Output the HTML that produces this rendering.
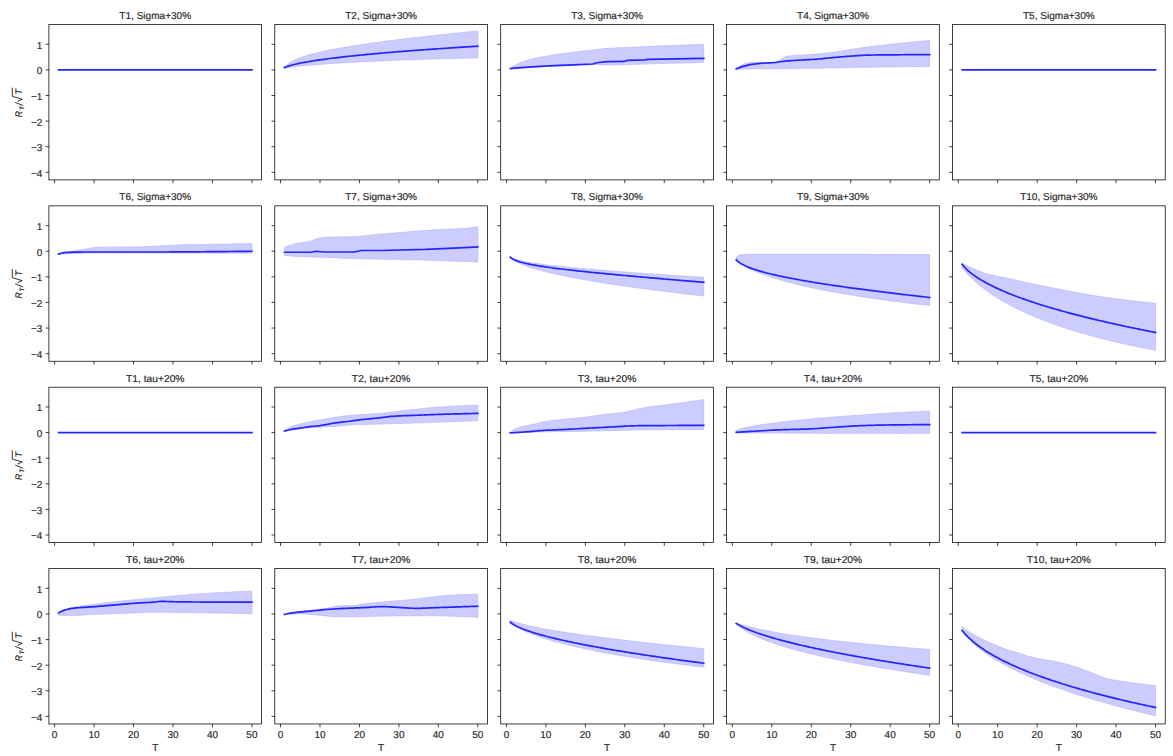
<!DOCTYPE html><html><head><meta charset="utf-8"><style>html,body{margin:0;padding:0;background:#fff;}svg{display:block;}text{font-family:"Liberation Sans",sans-serif;fill:#2a2a2a;text-rendering:geometricPrecision;stroke:#2a2a2a;stroke-width:0.18px;}</style></head><body>
<svg width="1173" height="756" viewBox="0 0 1173 756">
<rect x="0" y="0" width="1173" height="756" fill="#fff"/>
<polyline fill="none" stroke="#2525ff" stroke-width="1.7" stroke-linecap="square" points="58.57,69.9 251.93,69.9"/>
<rect x="48.9" y="24.5" width="212.7" height="155.4" fill="none" stroke="#000" stroke-width="0.75"/>
<path d="M54.62 179.9v3.3M94.08 179.9v3.3M133.55 179.9v3.3M173.01 179.9v3.3M212.47 179.9v3.3M251.93 179.9v3.3M48.9 172.3h-3.3M48.9 146.7h-3.3M48.9 121.1h-3.3M48.9 95.5h-3.3M48.9 69.9h-3.3M48.9 44.3h-3.3" stroke="#000" stroke-width="0.75" fill="none"/>
<text x="155.25" y="19.1" font-size="10.0" text-anchor="middle" textLength="71.84" lengthAdjust="spacingAndGlyphs">T1, Sigma+30%</text>
<text x="42.4" y="176.7" font-size="10" text-anchor="end">−4</text>
<text x="42.4" y="151.1" font-size="10" text-anchor="end">−3</text>
<text x="42.4" y="125.5" font-size="10" text-anchor="end">−2</text>
<text x="42.4" y="99.9" font-size="10" text-anchor="end">−1</text>
<text x="42.4" y="74.3" font-size="10" text-anchor="end">0</text>
<text x="42.4" y="48.7" font-size="10" text-anchor="end">1</text>
<g transform="translate(22.3 116.9) rotate(-90)"><text x="-0.3" y="0" font-size="9.6" font-style="italic" textLength="6.2" lengthAdjust="spacingAndGlyphs">R</text><text x="6.8" y="1.4" font-size="6.3" font-style="italic">T</text><path d="M11.3 0.8L14.5 -7.1M15.1 -3.9L15.9 -4.3L17.6 -0.1L20.6 -10H29.2" fill="none" stroke="#000" stroke-width="0.8"/><text x="22.1" y="0" font-size="9.6" font-style="italic">T</text></g>
<polygon fill="#ccccff" stroke="#b0b0ff" stroke-width="0.6" points="284.47,67.27 286.44,65.16 288.41,63.57 290.39,62.27 292.36,61.15 294.33,60.17 296.31,59.28 298.28,58.47 300.25,57.73 302.23,57.03 304.2,56.38 306.17,55.77 308.15,55.18 310.12,54.62 312.09,54.09 314.06,53.58 316.04,53.08 318.01,52.61 319.98,52.15 321.96,51.7 323.93,51.27 325.9,50.85 327.88,50.44 329.85,50.04 331.82,49.65 333.8,49.27 335.77,48.89 337.74,48.53 339.71,48.17 341.69,47.82 343.66,47.48 345.63,47.14 347.61,46.8 349.58,46.48 351.55,46.16 353.53,45.84 355.5,45.53 357.47,45.22 359.45,44.91 361.42,44.62 363.39,44.32 365.37,44.03 367.34,43.74 369.31,43.46 371.28,43.17 373.26,42.9 375.23,42.62 377.2,42.35 379.18,42.08 381.15,41.81 383.12,41.55 385.1,41.29 387.07,41.03 389.04,40.77 391.02,40.52 392.99,40.27 394.96,40.02 396.93,39.77 398.91,39.53 400.88,39.29 402.85,39.04 404.83,38.81 406.8,38.57 408.77,38.33 410.75,38.1 412.72,37.87 414.69,37.64 416.67,37.41 418.64,37.18 420.61,36.95 422.59,36.73 424.56,36.51 426.53,36.29 428.5,36.07 430.48,35.85 432.45,35.63 434.42,35.42 436.4,35.2 438.37,34.99 440.34,34.78 442.32,34.57 444.29,34.36 446.26,34.15 448.24,33.94 450.21,33.73 452.18,33.53 454.15,33.32 456.13,33.12 458.1,32.92 460.07,32.72 462.05,32.52 464.02,32.32 465.99,32.12 467.97,31.92 469.94,31.73 471.91,31.53 473.89,31.34 475.86,31.14 477.83,30.95 477.83,57.8 475.86,57.85 473.89,57.9 471.91,57.95 469.94,58 467.97,58.05 465.99,58.1 464.02,58.15 462.05,58.2 460.07,58.25 458.1,58.31 456.13,58.36 454.15,58.42 452.18,58.47 450.21,58.53 448.24,58.58 446.26,58.64 444.29,58.7 442.32,58.75 440.34,58.81 438.37,58.87 436.4,58.93 434.42,58.99 432.45,59.05 430.48,59.11 428.5,59.18 426.53,59.24 424.56,59.3 422.59,59.37 420.61,59.43 418.64,59.5 416.67,59.57 414.69,59.63 412.72,59.7 410.75,59.77 408.77,59.84 406.8,59.91 404.83,59.99 402.85,60.06 400.88,60.13 398.91,60.21 396.93,60.28 394.96,60.36 392.99,60.44 391.02,60.52 389.04,60.6 387.07,60.68 385.1,60.76 383.12,60.84 381.15,60.93 379.18,61.01 377.2,61.1 375.23,61.19 373.26,61.28 371.28,61.37 369.31,61.46 367.34,61.55 365.37,61.65 363.39,61.74 361.42,61.84 359.45,61.94 357.47,62.04 355.5,62.15 353.53,62.25 351.55,62.36 349.58,62.47 347.61,62.58 345.63,62.69 343.66,62.8 341.69,62.92 339.71,63.04 337.74,63.16 335.77,63.28 333.8,63.41 331.82,63.54 329.85,63.67 327.88,63.81 325.9,63.94 323.93,64.09 321.96,64.23 319.98,64.38 318.01,64.53 316.04,64.69 314.06,64.85 312.09,65.01 310.12,65.18 308.15,65.36 306.17,65.54 304.2,65.72 302.23,65.91 300.25,66.11 298.28,66.32 296.31,66.54 294.33,66.76 292.36,66.99 290.39,67.23 288.41,67.48 286.44,67.73 284.47,67.96"/>
<polyline fill="none" stroke="#2525ff" stroke-width="1.7" stroke-linecap="square" stroke-linejoin="round" points="284.47,67.59 286.44,66.8 288.41,66.13 290.39,65.53 292.36,64.99 294.33,64.5 296.31,64.03 298.28,63.6 300.25,63.19 302.23,62.79 304.2,62.42 306.17,62.06 308.15,61.72 310.12,61.38 312.09,61.06 314.06,60.75 316.04,60.44 318.01,60.15 319.98,59.86 321.96,59.58 323.93,59.31 325.9,59.05 327.88,58.78 329.85,58.53 331.82,58.28 333.8,58.04 335.77,57.8 337.74,57.56 339.71,57.33 341.69,57.1 343.66,56.88 345.63,56.66 347.61,56.44 349.58,56.23 351.55,56.02 353.53,55.81 355.5,55.61 357.47,55.41 359.45,55.21 361.42,55.01 363.39,54.82 365.37,54.63 367.34,54.44 369.31,54.25 371.28,54.07 373.26,53.89 375.23,53.71 377.2,53.53 379.18,53.35 381.15,53.18 383.12,53.01 385.1,52.84 387.07,52.67 389.04,52.5 391.02,52.34 392.99,52.17 394.96,52.01 396.93,51.85 398.91,51.69 400.88,51.53 402.85,51.38 404.83,51.22 406.8,51.07 408.77,50.91 410.75,50.76 412.72,50.61 414.69,50.47 416.67,50.32 418.64,50.17 420.61,50.03 422.59,49.88 424.56,49.74 426.53,49.6 428.5,49.46 430.48,49.32 432.45,49.18 434.42,49.04 436.4,48.9 438.37,48.77 440.34,48.63 442.32,48.5 444.29,48.36 446.26,48.23 448.24,48.1 450.21,47.97 452.18,47.84 454.15,47.71 456.13,47.58 458.1,47.46 460.07,47.33 462.05,47.2 464.02,47.08 465.99,46.96 467.97,46.83 469.94,46.71 471.91,46.59 473.89,46.47 475.86,46.35 477.83,46.23"/>
<rect x="274.8" y="24.5" width="212.7" height="155.4" fill="none" stroke="#000" stroke-width="0.75"/>
<path d="M280.52 179.9v3.3M319.98 179.9v3.3M359.45 179.9v3.3M398.91 179.9v3.3M438.37 179.9v3.3M477.83 179.9v3.3M274.8 172.3h-3.3M274.8 146.7h-3.3M274.8 121.1h-3.3M274.8 95.5h-3.3M274.8 69.9h-3.3M274.8 44.3h-3.3" stroke="#000" stroke-width="0.75" fill="none"/>
<text x="381.15" y="19.1" font-size="10.0" text-anchor="middle" textLength="71.84" lengthAdjust="spacingAndGlyphs">T2, Sigma+30%</text>
<polygon fill="#ccccff" stroke="#b0b0ff" stroke-width="0.6" points="510.37,68.11 512.34,66.85 514.31,65.67 516.29,64.6 518.26,63.64 520.23,62.76 522.21,61.95 524.18,61.21 526.15,60.55 528.13,59.97 530.1,59.46 532.07,58.99 534.05,58.55 536.02,58.12 537.99,57.71 539.96,57.31 541.94,56.93 543.91,56.55 545.88,56.19 547.86,55.84 549.83,55.5 551.8,55.18 553.78,54.86 555.75,54.55 557.72,54.25 559.7,53.96 561.67,53.68 563.64,53.41 565.61,53.14 567.59,52.88 569.56,52.63 571.53,52.38 573.51,52.14 575.48,51.91 577.45,51.68 579.43,51.46 581.4,51.25 583.37,51.04 585.35,50.83 587.32,50.62 589.29,50.41 591.27,50.19 593.24,49.96 595.21,49.71 597.18,49.46 599.16,49.21 601.13,48.97 603.1,48.75 605.08,48.55 607.05,48.4 609.02,48.27 611,48.15 612.97,48.04 614.94,47.94 616.92,47.85 618.89,47.76 620.86,47.68 622.83,47.6 624.81,47.52 626.78,47.45 628.75,47.37 630.73,47.29 632.7,47.2 634.67,47.12 636.65,47.02 638.62,46.93 640.59,46.84 642.57,46.74 644.54,46.65 646.51,46.55 648.49,46.46 650.46,46.36 652.43,46.27 654.4,46.18 656.38,46.09 658.35,46 660.32,45.92 662.3,45.84 664.27,45.76 666.24,45.68 668.22,45.6 670.19,45.53 672.16,45.45 674.14,45.38 676.11,45.31 678.08,45.24 680.05,45.17 682.03,45.1 684,45.03 685.97,44.96 687.95,44.88 689.92,44.81 691.89,44.74 693.87,44.67 695.84,44.59 697.81,44.52 699.79,44.45 701.76,44.37 703.73,44.3 703.73,62.48 701.76,62.52 699.79,62.57 697.81,62.61 695.84,62.66 693.87,62.71 691.89,62.76 689.92,62.8 687.95,62.85 685.97,62.9 684,62.95 682.03,63 680.05,63.05 678.08,63.09 676.11,63.14 674.14,63.19 672.16,63.24 670.19,63.29 668.22,63.34 666.24,63.4 664.27,63.45 662.3,63.5 660.32,63.55 658.35,63.6 656.38,63.65 654.4,63.7 652.43,63.76 650.46,63.81 648.49,63.87 646.51,63.93 644.54,64 642.57,64.07 640.59,64.14 638.62,64.22 636.65,64.29 634.67,64.37 632.7,64.44 630.73,64.51 628.75,64.58 626.78,64.65 624.81,64.71 622.83,64.77 620.86,64.83 618.89,64.88 616.92,64.93 614.94,64.96 612.97,64.99 611,65.02 609.02,65.03 607.05,65.04 605.08,65.01 603.1,64.93 601.13,64.83 599.16,64.73 597.18,64.63 595.21,64.55 593.24,64.52 591.27,64.54 589.29,64.57 587.32,64.63 585.35,64.7 583.37,64.78 581.4,64.87 579.43,64.97 577.45,65.07 575.48,65.17 573.51,65.26 571.53,65.34 569.56,65.43 567.59,65.51 565.61,65.6 563.64,65.68 561.67,65.77 559.7,65.86 557.72,65.95 555.75,66.05 553.78,66.14 551.8,66.24 549.83,66.34 547.86,66.44 545.88,66.54 543.91,66.64 541.94,66.75 539.96,66.86 537.99,66.97 536.02,67.08 534.05,67.2 532.07,67.32 530.1,67.45 528.13,67.58 526.15,67.71 524.18,67.85 522.21,67.98 520.23,68.13 518.26,68.27 516.29,68.42 514.31,68.57 512.34,68.72 510.37,68.88"/>
<polyline fill="none" stroke="#2525ff" stroke-width="1.7" stroke-linecap="square" stroke-linejoin="round" points="510.37,68.62 517.47,67.85 536.02,66.57 554.17,65.55 572.72,64.78 592.84,64.01 596.79,62.73 607.05,61.71 624.41,61.45 626.78,60.43 644.93,59.92 647.7,59.4 703.73,58.38"/>
<rect x="500.7" y="24.5" width="212.7" height="155.4" fill="none" stroke="#000" stroke-width="0.75"/>
<path d="M506.42 179.9v3.3M545.88 179.9v3.3M585.35 179.9v3.3M624.81 179.9v3.3M664.27 179.9v3.3M703.73 179.9v3.3M500.7 172.3h-3.3M500.7 146.7h-3.3M500.7 121.1h-3.3M500.7 95.5h-3.3M500.7 69.9h-3.3M500.7 44.3h-3.3" stroke="#000" stroke-width="0.75" fill="none"/>
<text x="607.05" y="19.1" font-size="10.0" text-anchor="middle" textLength="71.84" lengthAdjust="spacingAndGlyphs">T3, Sigma+30%</text>
<polygon fill="#ccccff" stroke="#b0b0ff" stroke-width="0.6" points="736.27,68.62 738.24,67.13 740.21,65.8 742.19,64.74 744.16,64 746.13,63.37 748.11,62.81 750.08,62.41 752.05,62.23 754.03,62.22 756,62.22 757.97,62.23 759.95,62.33 761.92,62.49 763.89,62.65 765.86,62.73 767.84,62.7 769.81,62.6 771.78,62.44 773.76,62.22 775.73,61.96 777.7,61.37 779.68,60.31 781.65,59 783.62,57.7 785.6,56.64 787.57,56.08 789.54,55.86 791.51,55.69 793.49,55.55 795.46,55.43 797.43,55.33 799.41,55.24 801.38,55.16 803.35,55.06 805.33,54.96 807.3,54.83 809.27,54.67 811.25,54.52 813.22,54.36 815.19,54.19 817.17,54.01 819.14,53.83 821.11,53.64 823.08,53.45 825.06,53.25 827.03,53.04 829,52.82 830.98,52.6 832.95,52.36 834.92,52.11 836.9,51.83 838.87,51.53 840.84,51.21 842.82,50.88 844.79,50.54 846.76,50.19 848.73,49.83 850.71,49.48 852.68,49.13 854.65,48.8 856.63,48.47 858.6,48.17 860.57,47.88 862.55,47.61 864.52,47.35 866.49,47.09 868.47,46.84 870.44,46.6 872.41,46.36 874.39,46.12 876.36,45.89 878.33,45.66 880.3,45.43 882.28,45.21 884.25,44.99 886.22,44.77 888.2,44.56 890.17,44.34 892.14,44.13 894.12,43.92 896.09,43.71 898.06,43.5 900.04,43.29 902.01,43.09 903.98,42.88 905.95,42.68 907.93,42.49 909.9,42.29 911.87,42.09 913.85,41.9 915.82,41.71 917.79,41.53 919.77,41.34 921.74,41.16 923.71,40.98 925.69,40.8 927.66,40.63 929.63,40.46 929.63,66.57 927.66,66.58 925.69,66.59 923.71,66.61 921.74,66.62 919.77,66.64 917.79,66.65 915.82,66.67 913.85,66.68 911.87,66.7 909.9,66.72 907.93,66.74 905.95,66.76 903.98,66.78 902.01,66.8 900.04,66.82 898.06,66.85 896.09,66.87 894.12,66.89 892.14,66.92 890.17,66.94 888.2,66.97 886.22,66.99 884.25,67.02 882.28,67.04 880.3,67.07 878.33,67.09 876.36,67.12 874.39,67.15 872.41,67.19 870.44,67.22 868.47,67.26 866.49,67.3 864.52,67.34 862.55,67.38 860.57,67.42 858.6,67.47 856.63,67.51 854.65,67.55 852.68,67.6 850.71,67.64 848.73,67.68 846.76,67.72 844.79,67.77 842.82,67.81 840.84,67.84 838.87,67.88 836.9,67.92 834.92,67.95 832.95,67.98 830.98,68.01 829,68.04 827.03,68.07 825.06,68.09 823.08,68.12 821.11,68.15 819.14,68.17 817.17,68.2 815.19,68.22 813.22,68.25 811.25,68.27 809.27,68.3 807.3,68.32 805.33,68.34 803.35,68.37 801.38,68.39 799.41,68.41 797.43,68.43 795.46,68.46 793.49,68.48 791.51,68.5 789.54,68.52 787.57,68.54 785.6,68.56 783.62,68.58 781.65,68.6 779.68,68.62 777.7,68.64 775.73,68.66 773.76,68.68 771.78,68.69 769.81,68.71 767.84,68.72 765.86,68.73 763.89,68.75 761.92,68.77 759.95,68.79 757.97,68.81 756,68.83 754.03,68.85 752.05,68.88 750.08,68.92 748.11,68.97 746.13,69.02 744.16,69.09 742.19,69.16 740.21,69.23 738.24,69.31 736.27,69.39"/>
<polyline fill="none" stroke="#2525ff" stroke-width="1.7" stroke-linecap="square" stroke-linejoin="round" points="736.27,68.88 738.24,68.07 740.21,67.33 742.19,66.67 744.16,66.1 746.13,65.57 748.11,65.09 750.08,64.68 752.05,64.33 754.03,64.05 756,63.8 757.97,63.59 759.95,63.4 761.92,63.24 763.89,63.12 765.86,63.02 767.84,62.93 769.81,62.85 771.78,62.76 773.76,62.64 775.73,62.48 777.7,62.15 779.68,61.76 781.65,61.52 783.62,61.31 785.6,61.12 787.57,60.95 789.54,60.8 791.51,60.65 793.49,60.51 795.46,60.38 797.43,60.25 799.41,60.12 801.38,60 803.35,59.9 805.33,59.8 807.3,59.7 809.27,59.6 811.25,59.5 813.22,59.4 815.19,59.28 817.17,59.15 819.14,58.99 821.11,58.82 823.08,58.62 825.06,58.42 827.03,58.21 829,58 830.98,57.8 832.95,57.61 834.92,57.43 836.9,57.26 838.87,57.08 840.84,56.91 842.82,56.74 844.79,56.58 846.76,56.42 848.73,56.27 850.71,56.13 852.68,56 854.65,55.86 856.63,55.72 858.6,55.58 860.57,55.45 862.55,55.33 864.52,55.23 866.49,55.14 868.47,55.08 870.44,55.04 872.41,55.01 874.39,54.98 876.36,54.96 878.33,54.94 880.3,54.92 882.28,54.9 884.25,54.89 886.22,54.88 888.2,54.86 890.17,54.85 892.14,54.84 894.12,54.82 896.09,54.81 898.06,54.79 900.04,54.77 902.01,54.76 903.98,54.74 905.95,54.72 907.93,54.71 909.9,54.69 911.87,54.68 913.85,54.66 915.82,54.64 917.79,54.63 919.77,54.61 921.74,54.6 923.71,54.58 925.69,54.57 927.66,54.55 929.63,54.54"/>
<rect x="726.6" y="24.5" width="212.7" height="155.4" fill="none" stroke="#000" stroke-width="0.75"/>
<path d="M732.32 179.9v3.3M771.78 179.9v3.3M811.25 179.9v3.3M850.71 179.9v3.3M890.17 179.9v3.3M929.63 179.9v3.3M726.6 172.3h-3.3M726.6 146.7h-3.3M726.6 121.1h-3.3M726.6 95.5h-3.3M726.6 69.9h-3.3M726.6 44.3h-3.3" stroke="#000" stroke-width="0.75" fill="none"/>
<text x="832.95" y="19.1" font-size="10.0" text-anchor="middle" textLength="71.84" lengthAdjust="spacingAndGlyphs">T4, Sigma+30%</text>
<polyline fill="none" stroke="#2525ff" stroke-width="1.7" stroke-linecap="square" points="962.17,69.9 1155.53,69.9"/>
<rect x="952.5" y="24.5" width="212.7" height="155.4" fill="none" stroke="#000" stroke-width="0.75"/>
<path d="M958.22 179.9v3.3M997.68 179.9v3.3M1037.15 179.9v3.3M1076.61 179.9v3.3M1116.07 179.9v3.3M1155.53 179.9v3.3M952.5 172.3h-3.3M952.5 146.7h-3.3M952.5 121.1h-3.3M952.5 95.5h-3.3M952.5 69.9h-3.3M952.5 44.3h-3.3" stroke="#000" stroke-width="0.75" fill="none"/>
<text x="1058.85" y="19.1" font-size="10.0" text-anchor="middle" textLength="71.84" lengthAdjust="spacingAndGlyphs">T5, Sigma+30%</text>
<polygon fill="#ccccff" stroke="#b0b0ff" stroke-width="0.6" points="58.57,253.81 95.66,247.15 139.07,246.9 154.86,246.13 182.48,244.85 228.25,244.08 251.93,243.57 251.93,253.3 249.96,253.29 247.99,253.28 246.01,253.27 244.04,253.26 242.07,253.26 240.09,253.25 238.12,253.24 236.15,253.23 234.17,253.22 232.2,253.22 230.23,253.21 228.25,253.2 226.28,253.19 224.31,253.19 222.34,253.18 220.36,253.17 218.39,253.17 216.42,253.16 214.44,253.15 212.47,253.15 210.5,253.14 208.52,253.13 206.55,253.13 204.58,253.12 202.6,253.12 200.63,253.11 198.66,253.11 196.69,253.1 194.71,253.1 192.74,253.09 190.77,253.09 188.79,253.08 186.82,253.08 184.85,253.07 182.87,253.07 180.9,253.07 178.93,253.06 176.95,253.06 174.98,253.06 173.01,253.06 171.03,253.05 169.06,253.05 167.09,253.05 165.12,253.05 163.14,253.05 161.17,253.04 159.2,253.04 157.22,253.04 155.25,253.04 153.28,253.04 151.3,253.04 149.33,253.04 147.36,253.04 145.38,253.04 143.41,253.04 141.44,253.04 139.47,253.04 137.49,253.04 135.52,253.04 133.55,253.04 131.57,253.04 129.6,253.04 127.63,253.04 125.65,253.04 123.68,253.04 121.71,253.04 119.73,253.04 117.76,253.04 115.79,253.04 113.81,253.04 111.84,253.04 109.87,253.04 107.9,253.04 105.92,253.04 103.95,253.04 101.98,253.04 100,253.05 98.03,253.06 96.06,253.08 94.08,253.1 92.11,253.14 90.14,253.17 88.16,253.22 86.19,253.27 84.22,253.32 82.25,253.38 80.27,253.45 78.3,253.52 76.33,253.59 74.35,253.66 72.38,253.74 70.41,253.82 68.43,253.9 66.46,253.98 64.49,254.07 62.51,254.15 60.54,254.24 58.57,254.32"/>
<polyline fill="none" stroke="#2525ff" stroke-width="1.7" stroke-linecap="square" stroke-linejoin="round" points="58.57,254.07 60.54,253.49 62.51,252.96 64.49,252.6 66.46,252.47 68.43,252.37 70.41,252.28 72.38,252.21 74.35,252.15 76.33,252.1 78.3,252.06 80.27,252.04 82.25,252.02 84.22,252.02 86.19,252.02 88.16,252.02 90.14,252.02 92.11,252.02 94.08,252.02 96.06,252.02 98.03,252.02 100,252.02 101.98,252.02 103.95,252.02 105.92,252.02 107.9,252.02 109.87,252.02 111.84,252.02 113.81,252.02 115.79,252.02 117.76,252.02 119.73,252.02 121.71,252.02 123.68,252.02 125.65,252.02 127.63,252.02 129.6,252.02 131.57,252.02 133.55,252.02 135.52,252.02 137.49,252.02 139.47,252.02 141.44,252.02 143.41,252.02 145.38,252.02 147.36,252.02 149.33,252.02 151.3,252.02 153.28,252.02 155.25,252.02 157.22,252.02 159.2,252.01 161.17,252.01 163.14,252 165.12,252 167.09,251.99 169.06,251.98 171.03,251.97 173.01,251.96 174.98,251.95 176.95,251.94 178.93,251.92 180.9,251.91 182.87,251.9 184.85,251.88 186.82,251.87 188.79,251.85 190.77,251.84 192.74,251.82 194.71,251.81 196.69,251.79 198.66,251.78 200.63,251.76 202.6,251.75 204.58,251.73 206.55,251.72 208.52,251.7 210.5,251.69 212.47,251.67 214.44,251.65 216.42,251.63 218.39,251.62 220.36,251.6 222.34,251.58 224.31,251.56 226.28,251.54 228.25,251.52 230.23,251.5 232.2,251.48 234.17,251.46 236.15,251.43 238.12,251.41 240.09,251.39 242.07,251.37 244.04,251.34 246.01,251.32 247.99,251.3 249.96,251.27 251.93,251.25"/>
<rect x="48.9" y="205.85" width="212.7" height="155.4" fill="none" stroke="#000" stroke-width="0.75"/>
<path d="M54.62 361.25v3.3M94.08 361.25v3.3M133.55 361.25v3.3M173.01 361.25v3.3M212.47 361.25v3.3M251.93 361.25v3.3M48.9 353.65h-3.3M48.9 328.05h-3.3M48.9 302.45h-3.3M48.9 276.85h-3.3M48.9 251.25h-3.3M48.9 225.65h-3.3" stroke="#000" stroke-width="0.75" fill="none"/>
<text x="155.25" y="200.45" font-size="10.0" text-anchor="middle" textLength="71.84" lengthAdjust="spacingAndGlyphs">T6, Sigma+30%</text>
<text x="42.4" y="358.05" font-size="10" text-anchor="end">−4</text>
<text x="42.4" y="332.45" font-size="10" text-anchor="end">−3</text>
<text x="42.4" y="306.85" font-size="10" text-anchor="end">−2</text>
<text x="42.4" y="281.25" font-size="10" text-anchor="end">−1</text>
<text x="42.4" y="255.65" font-size="10" text-anchor="end">0</text>
<text x="42.4" y="230.05" font-size="10" text-anchor="end">1</text>
<g transform="translate(22.3 298.25) rotate(-90)"><text x="-0.3" y="0" font-size="9.6" font-style="italic" textLength="6.2" lengthAdjust="spacingAndGlyphs">R</text><text x="6.8" y="1.4" font-size="6.3" font-style="italic">T</text><path d="M11.3 0.8L14.5 -7.1M15.1 -3.9L15.9 -4.3L17.6 -0.1L20.6 -10H29.2" fill="none" stroke="#000" stroke-width="0.8"/><text x="22.1" y="0" font-size="9.6" font-style="italic">T</text></g>
<polygon fill="#ccccff" stroke="#b0b0ff" stroke-width="0.6" points="284.47,247.41 286.44,246.61 288.41,245.86 290.39,245.2 292.36,244.63 294.33,244.12 296.31,243.66 298.28,243.24 300.25,242.87 302.23,242.57 304.2,242.33 306.17,242.09 308.15,241.78 310.12,241.27 312.09,240.58 314.06,239.8 316.04,239.05 318.01,238.44 319.98,238.07 321.96,237.77 323.93,237.52 325.9,237.32 327.88,237.19 329.85,237.11 331.82,237.06 333.8,237.01 335.77,236.97 337.74,236.94 339.71,236.91 341.69,236.89 343.66,236.87 345.63,236.84 347.61,236.81 349.58,236.77 351.55,236.73 353.53,236.67 355.5,236.59 357.47,236.49 359.45,236.35 361.42,236.19 363.39,236 365.37,235.8 367.34,235.59 369.31,235.37 371.28,235.14 373.26,234.92 375.23,234.7 377.2,234.48 379.18,234.28 381.15,234.1 383.12,233.92 385.1,233.75 387.07,233.58 389.04,233.41 391.02,233.24 392.99,233.08 394.96,232.91 396.93,232.75 398.91,232.59 400.88,232.42 402.85,232.26 404.83,232.11 406.8,231.95 408.77,231.79 410.75,231.64 412.72,231.48 414.69,231.32 416.67,231.16 418.64,231.01 420.61,230.85 422.59,230.7 424.56,230.54 426.53,230.4 428.5,230.26 430.48,230.12 432.45,229.99 434.42,229.86 436.4,229.75 438.37,229.64 440.34,229.54 442.32,229.46 444.29,229.38 446.26,229.3 448.24,229.23 450.21,229.16 452.18,229.08 454.15,229 456.13,228.92 458.1,228.82 460.07,228.72 462.05,228.6 464.02,228.47 465.99,228.3 467.97,228.09 469.94,227.85 471.91,227.58 473.89,227.29 475.86,226.98 477.83,226.67 477.83,262 475.86,261.92 473.89,261.84 471.91,261.76 469.94,261.68 467.97,261.6 465.99,261.52 464.02,261.44 462.05,261.37 460.07,261.29 458.1,261.22 456.13,261.15 454.15,261.08 452.18,261.01 450.21,260.94 448.24,260.87 446.26,260.8 444.29,260.73 442.32,260.67 440.34,260.61 438.37,260.54 436.4,260.48 434.42,260.42 432.45,260.37 430.48,260.31 428.5,260.25 426.53,260.2 424.56,260.15 422.59,260.1 420.61,260.05 418.64,260 416.67,259.95 414.69,259.9 412.72,259.86 410.75,259.82 408.77,259.77 406.8,259.73 404.83,259.69 402.85,259.65 400.88,259.6 398.91,259.56 396.93,259.52 394.96,259.48 392.99,259.44 391.02,259.4 389.04,259.36 387.07,259.32 385.1,259.27 383.12,259.23 381.15,259.19 379.18,259.14 377.2,259.1 375.23,259.06 373.26,259.02 371.28,258.99 369.31,258.95 367.34,258.91 365.37,258.88 363.39,258.84 361.42,258.8 359.45,258.76 357.47,258.71 355.5,258.66 353.53,258.62 351.55,258.56 349.58,258.51 347.61,258.44 345.63,258.37 343.66,258.28 341.69,258.17 339.71,258.05 337.74,257.92 335.77,257.79 333.8,257.67 331.82,257.55 329.85,257.46 327.88,257.38 325.9,257.32 323.93,257.27 321.96,257.22 319.98,257.18 318.01,257.15 316.04,257.11 314.06,257.07 312.09,257.02 310.12,256.98 308.15,256.92 306.17,256.85 304.2,256.78 302.23,256.69 300.25,256.6 298.28,256.5 296.31,256.39 294.33,256.27 292.36,256.15 290.39,256.02 288.41,255.89 286.44,255.75 284.47,255.6"/>
<polyline fill="none" stroke="#2525ff" stroke-width="1.7" stroke-linecap="square" stroke-linejoin="round" points="284.47,252.27 311.7,252.27 315.25,251.25 324.72,252.02 353.92,252.02 361.42,250.48 381.15,250.48 425.35,249.46 459.28,247.92 477.83,246.9"/>
<rect x="274.8" y="205.85" width="212.7" height="155.4" fill="none" stroke="#000" stroke-width="0.75"/>
<path d="M280.52 361.25v3.3M319.98 361.25v3.3M359.45 361.25v3.3M398.91 361.25v3.3M438.37 361.25v3.3M477.83 361.25v3.3M274.8 353.65h-3.3M274.8 328.05h-3.3M274.8 302.45h-3.3M274.8 276.85h-3.3M274.8 251.25h-3.3M274.8 225.65h-3.3" stroke="#000" stroke-width="0.75" fill="none"/>
<text x="381.15" y="200.45" font-size="10.0" text-anchor="middle" textLength="71.84" lengthAdjust="spacingAndGlyphs">T7, Sigma+30%</text>
<polygon fill="#ccccff" stroke="#b0b0ff" stroke-width="0.6" points="510.37,257.13 512.34,258.12 514.31,258.89 516.29,259.52 518.26,260.07 520.23,260.55 522.21,261 524.18,261.4 526.15,261.78 528.13,262.14 530.1,262.47 532.07,262.79 534.05,263.1 536.02,263.39 537.99,263.67 539.96,263.94 541.94,264.2 543.91,264.46 545.88,264.71 547.86,264.95 549.83,265.18 551.8,265.41 553.78,265.64 555.75,265.86 557.72,266.07 559.7,266.28 561.67,266.49 563.64,266.7 565.61,266.9 567.59,267.1 569.56,267.29 571.53,267.48 573.51,267.67 575.48,267.86 577.45,268.04 579.43,268.22 581.4,268.4 583.37,268.58 585.35,268.76 587.32,268.93 589.29,269.1 591.27,269.28 593.24,269.44 595.21,269.61 597.18,269.78 599.16,269.94 601.13,270.1 603.1,270.27 605.08,270.43 607.05,270.58 609.02,270.74 611,270.9 612.97,271.05 614.94,271.21 616.92,271.36 618.89,271.51 620.86,271.66 622.83,271.81 624.81,271.96 626.78,272.11 628.75,272.26 630.73,272.4 632.7,272.55 634.67,272.69 636.65,272.84 638.62,272.98 640.59,273.12 642.57,273.27 644.54,273.41 646.51,273.55 648.49,273.69 650.46,273.82 652.43,273.96 654.4,274.1 656.38,274.24 658.35,274.37 660.32,274.51 662.3,274.64 664.27,274.78 666.24,274.91 668.22,275.05 670.19,275.18 672.16,275.31 674.14,275.44 676.11,275.57 678.08,275.7 680.05,275.83 682.03,275.96 684,276.09 685.97,276.22 687.95,276.35 689.92,276.48 691.89,276.61 693.87,276.73 695.84,276.86 697.81,276.99 699.79,277.11 701.76,277.24 703.73,277.36 703.73,295.99 701.76,295.77 699.79,295.54 697.81,295.32 695.84,295.09 693.87,294.87 691.89,294.64 689.92,294.41 687.95,294.18 685.97,293.95 684,293.72 682.03,293.49 680.05,293.25 678.08,293.02 676.11,292.78 674.14,292.54 672.16,292.3 670.19,292.06 668.22,291.82 666.24,291.58 664.27,291.33 662.3,291.08 660.32,290.83 658.35,290.58 656.38,290.33 654.4,290.08 652.43,289.83 650.46,289.57 648.49,289.31 646.51,289.05 644.54,288.79 642.57,288.53 640.59,288.26 638.62,287.99 636.65,287.72 634.67,287.45 632.7,287.18 630.73,286.9 628.75,286.63 626.78,286.35 624.81,286.06 622.83,285.78 620.86,285.49 618.89,285.2 616.92,284.91 614.94,284.62 612.97,284.32 611,284.02 609.02,283.72 607.05,283.41 605.08,283.11 603.1,282.79 601.13,282.48 599.16,282.16 597.18,281.84 595.21,281.52 593.24,281.19 591.27,280.86 589.29,280.52 587.32,280.18 585.35,279.84 583.37,279.49 581.4,279.14 579.43,278.78 577.45,278.42 575.48,278.05 573.51,277.68 571.53,277.3 569.56,276.92 567.59,276.53 565.61,276.13 563.64,275.73 561.67,275.32 559.7,274.9 557.72,274.48 555.75,274.04 553.78,273.6 551.8,273.15 549.83,272.69 547.86,272.22 545.88,271.73 543.91,271.24 541.94,270.73 539.96,270.2 537.99,269.66 536.02,269.1 534.05,268.53 532.07,267.93 530.1,267.3 528.13,266.65 526.15,265.97 524.18,265.25 522.21,264.49 520.23,263.67 518.26,262.8 516.29,261.84 514.31,260.77 512.34,259.54 510.37,258.06"/>
<polyline fill="none" stroke="#2525ff" stroke-width="1.7" stroke-linecap="square" stroke-linejoin="round" points="510.37,257.27 512.34,258.73 514.31,259.79 516.29,260.65 518.26,261.36 520.23,261.98 522.21,262.54 524.18,263.04 526.15,263.5 528.13,263.93 530.1,264.34 532.07,264.72 534.05,265.08 536.02,265.42 537.99,265.75 539.96,266.07 541.94,266.38 543.91,266.68 545.88,266.96 547.86,267.24 549.83,267.52 551.8,267.78 553.78,268.04 555.75,268.3 557.72,268.55 559.7,268.79 561.67,269.03 563.64,269.27 565.61,269.5 567.59,269.73 569.56,269.96 571.53,270.18 573.51,270.4 575.48,270.62 577.45,270.84 579.43,271.05 581.4,271.26 583.37,271.47 585.35,271.68 587.32,271.88 589.29,272.09 591.27,272.29 593.24,272.49 595.21,272.68 597.18,272.88 599.16,273.08 601.13,273.27 603.1,273.46 605.08,273.65 607.05,273.84 609.02,274.03 611,274.22 612.97,274.41 614.94,274.59 616.92,274.78 618.89,274.96 620.86,275.14 622.83,275.32 624.81,275.5 626.78,275.68 628.75,275.86 630.73,276.04 632.7,276.22 634.67,276.4 636.65,276.57 638.62,276.75 640.59,276.92 642.57,277.1 644.54,277.27 646.51,277.45 648.49,277.62 650.46,277.79 652.43,277.96 654.4,278.13 656.38,278.3 658.35,278.47 660.32,278.64 662.3,278.81 664.27,278.98 666.24,279.15 668.22,279.32 670.19,279.48 672.16,279.65 674.14,279.82 676.11,279.98 678.08,280.15 680.05,280.31 682.03,280.48 684,280.64 685.97,280.81 687.95,280.97 689.92,281.13 691.89,281.3 693.87,281.46 695.84,281.62 697.81,281.78 699.79,281.95 701.76,282.11 703.73,282.27"/>
<rect x="500.7" y="205.85" width="212.7" height="155.4" fill="none" stroke="#000" stroke-width="0.75"/>
<path d="M506.42 361.25v3.3M545.88 361.25v3.3M585.35 361.25v3.3M624.81 361.25v3.3M664.27 361.25v3.3M703.73 361.25v3.3M500.7 353.65h-3.3M500.7 328.05h-3.3M500.7 302.45h-3.3M500.7 276.85h-3.3M500.7 251.25h-3.3M500.7 225.65h-3.3" stroke="#000" stroke-width="0.75" fill="none"/>
<text x="607.05" y="200.45" font-size="10.0" text-anchor="middle" textLength="71.84" lengthAdjust="spacingAndGlyphs">T8, Sigma+30%</text>
<polygon fill="#ccccff" stroke="#b0b0ff" stroke-width="0.6" points="736.27,257.14 738.24,255.49 740.21,255.03 742.19,254.71 744.16,254.49 746.13,254.36 748.11,254.32 750.08,254.32 752.05,254.32 754.03,254.32 756,254.32 757.97,254.32 759.95,254.32 761.92,254.32 763.89,254.32 765.86,254.32 767.84,254.32 769.81,254.32 771.78,254.32 773.76,254.32 775.73,254.32 777.7,254.32 779.68,254.32 781.65,254.32 783.62,254.32 785.6,254.32 787.57,254.32 789.54,254.32 791.51,254.32 793.49,254.32 795.46,254.32 797.43,254.32 799.41,254.32 801.38,254.32 803.35,254.32 805.33,254.32 807.3,254.32 809.27,254.32 811.25,254.32 813.22,254.32 815.19,254.32 817.17,254.32 819.14,254.32 821.11,254.32 823.08,254.32 825.06,254.32 827.03,254.32 829,254.32 830.98,254.32 832.95,254.32 834.92,254.32 836.9,254.32 838.87,254.32 840.84,254.32 842.82,254.33 844.79,254.33 846.76,254.33 848.73,254.33 850.71,254.33 852.68,254.34 854.65,254.34 856.63,254.34 858.6,254.35 860.57,254.35 862.55,254.35 864.52,254.36 866.49,254.36 868.47,254.37 870.44,254.37 872.41,254.38 874.39,254.38 876.36,254.39 878.33,254.39 880.3,254.4 882.28,254.4 884.25,254.41 886.22,254.42 888.2,254.42 890.17,254.43 892.14,254.44 894.12,254.44 896.09,254.45 898.06,254.46 900.04,254.46 902.01,254.47 903.98,254.48 905.95,254.48 907.93,254.49 909.9,254.5 911.87,254.51 913.85,254.51 915.82,254.52 917.79,254.53 919.77,254.54 921.74,254.55 923.71,254.55 925.69,254.56 927.66,254.57 929.63,254.58 929.63,305.53 927.66,305.31 925.69,305.09 923.71,304.87 921.74,304.65 919.77,304.42 917.79,304.19 915.82,303.96 913.85,303.73 911.87,303.5 909.9,303.26 907.93,303.02 905.95,302.78 903.98,302.54 902.01,302.29 900.04,302.04 898.06,301.8 896.09,301.54 894.12,301.29 892.14,301.03 890.17,300.77 888.2,300.51 886.22,300.24 884.25,299.98 882.28,299.71 880.3,299.43 878.33,299.16 876.36,298.88 874.39,298.6 872.41,298.31 870.44,298.03 868.47,297.74 866.49,297.44 864.52,297.15 862.55,296.85 860.57,296.54 858.6,296.24 856.63,295.93 854.65,295.61 852.68,295.3 850.71,294.98 848.73,294.65 846.76,294.32 844.79,293.99 842.82,293.65 840.84,293.31 838.87,292.96 836.9,292.62 834.92,292.26 832.95,291.9 830.98,291.54 829,291.17 827.03,290.79 825.06,290.42 823.08,290.03 821.11,289.64 819.14,289.25 817.17,288.84 815.19,288.44 813.22,288.02 811.25,287.6 809.27,287.17 807.3,286.74 805.33,286.3 803.35,285.85 801.38,285.39 799.41,284.93 797.43,284.45 795.46,283.97 793.49,283.48 791.51,282.98 789.54,282.47 787.57,281.95 785.6,281.42 783.62,280.87 781.65,280.32 779.68,279.75 777.7,279.17 775.73,278.57 773.76,277.96 771.78,277.33 769.81,276.69 767.84,276.02 765.86,275.34 763.89,274.64 761.92,273.91 759.95,273.16 757.97,272.38 756,271.57 754.03,270.73 752.05,269.85 750.08,268.93 748.11,267.96 746.13,266.94 744.16,265.86 742.19,264.7 740.21,263.46 738.24,262.11 736.27,260.64"/>
<polyline fill="none" stroke="#2525ff" stroke-width="1.7" stroke-linecap="square" stroke-linejoin="round" points="736.27,260 738.24,261.77 740.21,263.16 742.19,264.32 744.16,265.35 746.13,266.26 748.11,267.1 750.08,267.87 752.05,268.6 754.03,269.28 756,269.92 757.97,270.53 759.95,271.12 761.92,271.68 763.89,272.22 765.86,272.75 767.84,273.25 769.81,273.74 771.78,274.22 773.76,274.68 775.73,275.13 777.7,275.57 779.68,276 781.65,276.42 783.62,276.84 785.6,277.24 787.57,277.64 789.54,278.03 791.51,278.41 793.49,278.78 795.46,279.15 797.43,279.52 799.41,279.87 801.38,280.23 803.35,280.57 805.33,280.92 807.3,281.26 809.27,281.59 811.25,281.92 813.22,282.25 815.19,282.57 817.17,282.89 819.14,283.2 821.11,283.51 823.08,283.82 825.06,284.12 827.03,284.43 829,284.72 830.98,285.02 832.95,285.31 834.92,285.6 836.9,285.89 838.87,286.18 840.84,286.46 842.82,286.74 844.79,287.02 846.76,287.29 848.73,287.57 850.71,287.84 852.68,288.11 854.65,288.38 856.63,288.64 858.6,288.91 860.57,289.17 862.55,289.43 864.52,289.69 866.49,289.94 868.47,290.2 870.44,290.45 872.41,290.7 874.39,290.95 876.36,291.2 878.33,291.45 880.3,291.69 882.28,291.94 884.25,292.18 886.22,292.42 888.2,292.66 890.17,292.9 892.14,293.14 894.12,293.37 896.09,293.61 898.06,293.84 900.04,294.08 902.01,294.31 903.98,294.54 905.95,294.77 907.93,294.99 909.9,295.22 911.87,295.45 913.85,295.67 915.82,295.9 917.79,296.12 919.77,296.34 921.74,296.56 923.71,296.78 925.69,297 927.66,297.22 929.63,297.44"/>
<rect x="726.6" y="205.85" width="212.7" height="155.4" fill="none" stroke="#000" stroke-width="0.75"/>
<path d="M732.32 361.25v3.3M771.78 361.25v3.3M811.25 361.25v3.3M850.71 361.25v3.3M890.17 361.25v3.3M929.63 361.25v3.3M726.6 353.65h-3.3M726.6 328.05h-3.3M726.6 302.45h-3.3M726.6 276.85h-3.3M726.6 251.25h-3.3M726.6 225.65h-3.3" stroke="#000" stroke-width="0.75" fill="none"/>
<text x="832.95" y="200.45" font-size="10.0" text-anchor="middle" textLength="71.84" lengthAdjust="spacingAndGlyphs">T9, Sigma+30%</text>
<polygon fill="#ccccff" stroke="#b0b0ff" stroke-width="0.6" points="962.17,263.79 964.14,264.62 966.11,265.46 968.09,266.32 970.06,267.19 972.03,268.07 974.01,268.91 975.98,269.74 977.95,270.54 979.93,271.33 981.9,272.11 983.87,272.94 985.85,273.73 987.82,274.31 989.79,274.69 991.76,275.06 993.74,275.47 995.71,275.89 997.68,276.3 999.66,276.7 1001.63,277.08 1003.6,277.45 1005.58,277.82 1007.55,278.22 1009.52,278.65 1011.5,279.13 1013.47,279.62 1015.44,280.12 1017.41,280.6 1019.39,281.05 1021.36,281.48 1023.33,281.9 1025.31,282.32 1027.28,282.74 1029.25,283.17 1031.23,283.61 1033.2,284.04 1035.17,284.46 1037.15,284.87 1039.12,285.25 1041.09,285.62 1043.07,285.98 1045.04,286.35 1047.01,286.73 1048.98,287.13 1050.96,287.53 1052.93,287.94 1054.9,288.35 1056.88,288.75 1058.85,289.14 1060.82,289.52 1062.8,289.91 1064.77,290.29 1066.74,290.68 1068.72,291.06 1070.69,291.44 1072.66,291.81 1074.63,292.18 1076.61,292.55 1078.58,292.92 1080.55,293.27 1082.53,293.63 1084.5,293.97 1086.47,294.31 1088.45,294.65 1090.42,294.98 1092.39,295.3 1094.37,295.63 1096.34,295.95 1098.31,296.27 1100.29,296.58 1102.26,296.89 1104.23,297.19 1106.2,297.49 1108.18,297.78 1110.15,298.06 1112.12,298.34 1114.1,298.61 1116.07,298.87 1118.04,299.12 1120.02,299.37 1121.99,299.62 1123.96,299.86 1125.94,300.11 1127.91,300.34 1129.88,300.58 1131.85,300.81 1133.83,301.04 1135.8,301.26 1137.77,301.48 1139.75,301.69 1141.72,301.9 1143.69,302.1 1145.67,302.3 1147.64,302.5 1149.61,302.69 1151.59,302.87 1153.56,303.05 1155.53,303.22 1155.53,350.25 1153.56,349.88 1151.59,349.51 1149.61,349.13 1147.64,348.75 1145.67,348.36 1143.69,347.97 1141.72,347.57 1139.75,347.17 1137.77,346.77 1135.8,346.36 1133.83,345.94 1131.85,345.52 1129.88,345.1 1127.91,344.67 1125.94,344.24 1123.96,343.8 1121.99,343.36 1120.02,342.91 1118.04,342.45 1116.07,341.99 1114.1,341.53 1112.12,341.06 1110.15,340.58 1108.18,340.1 1106.2,339.61 1104.23,339.12 1102.26,338.62 1100.29,338.12 1098.31,337.6 1096.34,337.09 1094.37,336.56 1092.39,336.03 1090.42,335.49 1088.45,334.95 1086.47,334.39 1084.5,333.83 1082.53,333.27 1080.55,332.69 1078.58,332.11 1076.61,331.52 1074.63,330.92 1072.66,330.32 1070.69,329.7 1068.72,329.08 1066.74,328.45 1064.77,327.81 1062.8,327.16 1060.82,326.5 1058.85,325.83 1056.88,325.15 1054.9,324.46 1052.93,323.76 1050.96,323.05 1048.98,322.32 1047.01,321.59 1045.04,320.85 1043.07,320.09 1041.09,319.32 1039.12,318.54 1037.15,317.74 1035.17,316.93 1033.2,316.11 1031.23,315.27 1029.25,314.41 1027.28,313.54 1025.31,312.66 1023.33,311.75 1021.36,310.83 1019.39,309.9 1017.41,308.94 1015.44,307.96 1013.47,306.96 1011.5,305.94 1009.52,304.9 1007.55,303.84 1005.58,302.75 1003.6,301.63 1001.63,300.49 999.66,299.32 997.68,298.11 995.71,296.88 993.74,295.61 991.76,294.31 989.79,292.96 987.82,291.58 985.85,290.15 983.87,288.68 981.9,287.15 979.93,285.57 977.95,283.93 975.98,282.23 974.01,280.45 972.03,278.61 970.06,276.68 968.09,274.68 966.11,272.6 964.14,270.49 962.17,268.48"/>
<polyline fill="none" stroke="#2525ff" stroke-width="1.7" stroke-linecap="square" stroke-linejoin="round" points="962.17,264.3 964.14,266.69 966.11,268.76 968.09,270.61 970.06,272.3 972.03,273.86 974.01,275.32 975.98,276.7 977.95,278.01 979.93,279.25 981.9,280.44 983.87,281.59 985.85,282.69 987.82,283.76 989.79,284.79 991.76,285.78 993.74,286.75 995.71,287.7 997.68,288.62 999.66,289.51 1001.63,290.39 1003.6,291.24 1005.58,292.08 1007.55,292.89 1009.52,293.7 1011.5,294.48 1013.47,295.25 1015.44,296.01 1017.41,296.75 1019.39,297.49 1021.36,298.21 1023.33,298.91 1025.31,299.61 1027.28,300.29 1029.25,300.97 1031.23,301.64 1033.2,302.29 1035.17,302.94 1037.15,303.58 1039.12,304.21 1041.09,304.83 1043.07,305.45 1045.04,306.05 1047.01,306.65 1048.98,307.25 1050.96,307.83 1052.93,308.41 1054.9,308.98 1056.88,309.55 1058.85,310.11 1060.82,310.67 1062.8,311.21 1064.77,311.76 1066.74,312.3 1068.72,312.83 1070.69,313.36 1072.66,313.88 1074.63,314.4 1076.61,314.91 1078.58,315.42 1080.55,315.92 1082.53,316.42 1084.5,316.92 1086.47,317.41 1088.45,317.9 1090.42,318.38 1092.39,318.86 1094.37,319.33 1096.34,319.8 1098.31,320.27 1100.29,320.74 1102.26,321.2 1104.23,321.65 1106.2,322.11 1108.18,322.56 1110.15,323 1112.12,323.45 1114.1,323.89 1116.07,324.33 1118.04,324.76 1120.02,325.19 1121.99,325.62 1123.96,326.05 1125.94,326.47 1127.91,326.89 1129.88,327.31 1131.85,327.72 1133.83,328.13 1135.8,328.54 1137.77,328.95 1139.75,329.35 1141.72,329.76 1143.69,330.16 1145.67,330.55 1147.64,330.95 1149.61,331.34 1151.59,331.73 1153.56,332.12 1155.53,332.5"/>
<rect x="952.5" y="205.85" width="212.7" height="155.4" fill="none" stroke="#000" stroke-width="0.75"/>
<path d="M958.22 361.25v3.3M997.68 361.25v3.3M1037.15 361.25v3.3M1076.61 361.25v3.3M1116.07 361.25v3.3M1155.53 361.25v3.3M952.5 353.65h-3.3M952.5 328.05h-3.3M952.5 302.45h-3.3M952.5 276.85h-3.3M952.5 251.25h-3.3M952.5 225.65h-3.3" stroke="#000" stroke-width="0.75" fill="none"/>
<text x="1058.85" y="200.45" font-size="10.0" text-anchor="middle" textLength="77.43" lengthAdjust="spacingAndGlyphs">T10, Sigma+30%</text>
<polyline fill="none" stroke="#2525ff" stroke-width="1.7" stroke-linecap="square" points="58.57,432.6 251.93,432.6"/>
<rect x="48.9" y="387.2" width="212.7" height="155.4" fill="none" stroke="#000" stroke-width="0.75"/>
<path d="M54.62 542.6v3.3M94.08 542.6v3.3M133.55 542.6v3.3M173.01 542.6v3.3M212.47 542.6v3.3M251.93 542.6v3.3M48.9 535h-3.3M48.9 509.4h-3.3M48.9 483.8h-3.3M48.9 458.2h-3.3M48.9 432.6h-3.3M48.9 407h-3.3" stroke="#000" stroke-width="0.75" fill="none"/>
<text x="155.25" y="381.8" font-size="10.0" text-anchor="middle" textLength="58.52" lengthAdjust="spacingAndGlyphs">T1, tau+20%</text>
<text x="42.4" y="539.4" font-size="10" text-anchor="end">−4</text>
<text x="42.4" y="513.8" font-size="10" text-anchor="end">−3</text>
<text x="42.4" y="488.2" font-size="10" text-anchor="end">−2</text>
<text x="42.4" y="462.6" font-size="10" text-anchor="end">−1</text>
<text x="42.4" y="437" font-size="10" text-anchor="end">0</text>
<text x="42.4" y="411.4" font-size="10" text-anchor="end">1</text>
<g transform="translate(22.3 479.6) rotate(-90)"><text x="-0.3" y="0" font-size="9.6" font-style="italic" textLength="6.2" lengthAdjust="spacingAndGlyphs">R</text><text x="6.8" y="1.4" font-size="6.3" font-style="italic">T</text><path d="M11.3 0.8L14.5 -7.1M15.1 -3.9L15.9 -4.3L17.6 -0.1L20.6 -10H29.2" fill="none" stroke="#000" stroke-width="0.8"/><text x="22.1" y="0" font-size="9.6" font-style="italic">T</text></g>
<polygon fill="#ccccff" stroke="#b0b0ff" stroke-width="0.6" points="284.47,430.81 286.44,429.36 288.41,428.06 290.39,426.98 292.36,426.16 294.33,425.51 296.31,424.96 298.28,424.47 300.25,423.99 302.23,423.51 304.2,423.04 306.17,422.6 308.15,422.18 310.12,421.77 312.09,421.37 314.06,420.99 316.04,420.63 318.01,420.27 319.98,419.92 321.96,419.58 323.93,419.24 325.9,418.92 327.88,418.59 329.85,418.25 331.82,417.9 333.8,417.56 335.77,417.23 337.74,416.92 339.71,416.63 341.69,416.34 343.66,416.08 345.63,415.83 347.61,415.62 349.58,415.44 351.55,415.27 353.53,415.12 355.5,414.97 357.47,414.82 359.45,414.68 361.42,414.56 363.39,414.43 365.37,414.32 367.34,414.2 369.31,414.08 371.28,413.96 373.26,413.84 375.23,413.71 377.2,413.58 379.18,413.43 381.15,413.27 383.12,413.1 385.1,412.9 387.07,412.7 389.04,412.48 391.02,412.24 392.99,412 394.96,411.76 396.93,411.51 398.91,411.26 400.88,411.01 402.85,410.76 404.83,410.52 406.8,410.29 408.77,410.07 410.75,409.86 412.72,409.63 414.69,409.41 416.67,409.19 418.64,408.96 420.61,408.74 422.59,408.52 424.56,408.31 426.53,408.11 428.5,407.91 430.48,407.73 432.45,407.56 434.42,407.4 436.4,407.26 438.37,407.12 440.34,406.99 442.32,406.86 444.29,406.73 446.26,406.6 448.24,406.48 450.21,406.36 452.18,406.25 454.15,406.13 456.13,406.02 458.1,405.92 460.07,405.82 462.05,405.73 464.02,405.64 465.99,405.56 467.97,405.48 469.94,405.41 471.91,405.35 473.89,405.29 475.86,405.25 477.83,405.21 477.83,420.57 475.86,420.66 473.89,420.75 471.91,420.83 469.94,420.92 467.97,421.01 465.99,421.09 464.02,421.18 462.05,421.26 460.07,421.34 458.1,421.42 456.13,421.51 454.15,421.59 452.18,421.67 450.21,421.75 448.24,421.82 446.26,421.9 444.29,421.98 442.32,422.05 440.34,422.13 438.37,422.2 436.4,422.28 434.42,422.35 432.45,422.42 430.48,422.49 428.5,422.56 426.53,422.63 424.56,422.7 422.59,422.77 420.61,422.83 418.64,422.9 416.67,422.96 414.69,423.03 412.72,423.09 410.75,423.15 408.77,423.21 406.8,423.28 404.83,423.34 402.85,423.4 400.88,423.46 398.91,423.52 396.93,423.57 394.96,423.63 392.99,423.69 391.02,423.75 389.04,423.8 387.07,423.86 385.1,423.91 383.12,423.97 381.15,424.02 379.18,424.08 377.2,424.12 375.23,424.17 373.26,424.21 371.28,424.25 369.31,424.29 367.34,424.33 365.37,424.38 363.39,424.42 361.42,424.48 359.45,424.54 357.47,424.6 355.5,424.68 353.53,424.79 351.55,424.93 349.58,425.09 347.61,425.27 345.63,425.47 343.66,425.66 341.69,425.85 339.71,426.02 337.74,426.17 335.77,426.3 333.8,426.42 331.82,426.53 329.85,426.63 327.88,426.73 325.9,426.83 323.93,426.94 321.96,427.05 319.98,427.17 318.01,427.3 316.04,427.44 314.06,427.58 312.09,427.72 310.12,427.87 308.15,428.03 306.17,428.2 304.2,428.39 302.23,428.59 300.25,428.81 298.28,429.05 296.31,429.34 294.33,429.65 292.36,429.99 290.39,430.36 288.41,430.75 286.44,431.16 284.47,431.58"/>
<polyline fill="none" stroke="#2525ff" stroke-width="1.7" stroke-linecap="square" stroke-linejoin="round" points="284.47,431.06 286.44,430.49 288.41,429.96 290.39,429.51 292.36,429.13 294.33,428.83 296.31,428.56 298.28,428.31 300.25,428.05 302.23,427.77 304.2,427.48 306.17,427.19 308.15,426.91 310.12,426.66 312.09,426.45 314.06,426.25 316.04,426.05 318.01,425.84 319.98,425.58 321.96,425.27 323.93,424.93 325.9,424.57 327.88,424.22 329.85,423.88 331.82,423.52 333.8,423.17 335.77,422.84 337.74,422.56 339.71,422.33 341.69,422.13 343.66,421.94 345.63,421.73 347.61,421.49 349.58,421.22 351.55,420.93 353.53,420.63 355.5,420.36 357.47,420.12 359.45,419.89 361.42,419.67 363.39,419.46 365.37,419.25 367.34,419.04 369.31,418.84 371.28,418.64 373.26,418.45 375.23,418.25 377.2,418.05 379.18,417.84 381.15,417.62 383.12,417.37 385.1,417.09 387.07,416.81 389.04,416.58 391.02,416.41 392.99,416.28 394.96,416.16 396.93,416.05 398.91,415.95 400.88,415.85 402.85,415.77 404.83,415.69 406.8,415.61 408.77,415.53 410.75,415.46 412.72,415.39 414.69,415.31 416.67,415.24 418.64,415.16 420.61,415.08 422.59,415 424.56,414.92 426.53,414.85 428.5,414.77 430.48,414.7 432.45,414.62 434.42,414.55 436.4,414.48 438.37,414.41 440.34,414.34 442.32,414.28 444.29,414.22 446.26,414.16 448.24,414.1 450.21,414.04 452.18,413.99 454.15,413.93 456.13,413.88 458.1,413.83 460.07,413.78 462.05,413.73 464.02,413.68 465.99,413.64 467.97,413.59 469.94,413.55 471.91,413.51 473.89,413.47 475.86,413.44 477.83,413.4"/>
<rect x="274.8" y="387.2" width="212.7" height="155.4" fill="none" stroke="#000" stroke-width="0.75"/>
<path d="M280.52 542.6v3.3M319.98 542.6v3.3M359.45 542.6v3.3M398.91 542.6v3.3M438.37 542.6v3.3M477.83 542.6v3.3M274.8 535h-3.3M274.8 509.4h-3.3M274.8 483.8h-3.3M274.8 458.2h-3.3M274.8 432.6h-3.3M274.8 407h-3.3" stroke="#000" stroke-width="0.75" fill="none"/>
<text x="381.15" y="381.8" font-size="10.0" text-anchor="middle" textLength="58.52" lengthAdjust="spacingAndGlyphs">T2, tau+20%</text>
<polygon fill="#ccccff" stroke="#b0b0ff" stroke-width="0.6" points="510.37,432.09 512.34,430.72 514.31,429.49 516.29,428.47 518.26,427.72 520.23,427.14 522.21,426.65 524.18,426.22 526.15,425.78 528.13,425.33 530.1,424.9 532.07,424.48 534.05,424.07 536.02,423.64 537.99,423.18 539.96,422.7 541.94,422.23 543.91,421.81 545.88,421.46 547.86,421.16 549.83,420.88 551.8,420.62 553.78,420.38 555.75,420.15 557.72,419.93 559.7,419.72 561.67,419.5 563.64,419.29 565.61,419.08 567.59,418.88 569.56,418.69 571.53,418.51 573.51,418.32 575.48,418.14 577.45,417.95 579.43,417.75 581.4,417.54 583.37,417.31 585.35,417.07 587.32,416.81 589.29,416.54 591.27,416.27 593.24,415.99 595.21,415.7 597.18,415.42 599.16,415.15 601.13,414.88 603.1,414.63 605.08,414.39 607.05,414.17 609.02,413.97 611,413.8 612.97,413.64 614.94,413.48 616.92,413.31 618.89,413.12 620.86,412.89 622.83,412.6 624.81,412.23 626.78,411.81 628.75,411.35 630.73,410.85 632.7,410.34 634.67,409.82 636.65,409.31 638.62,408.82 640.59,408.37 642.57,407.98 644.54,407.64 646.51,407.33 648.49,407.04 650.46,406.77 652.43,406.51 654.4,406.26 656.38,406.01 658.35,405.78 660.32,405.55 662.3,405.31 664.27,405.08 666.24,404.84 668.22,404.6 670.19,404.34 672.16,404.08 674.14,403.81 676.11,403.54 678.08,403.26 680.05,402.99 682.03,402.72 684,402.44 685.97,402.16 687.95,401.88 689.92,401.6 691.89,401.31 693.87,401.03 695.84,400.74 697.81,400.45 699.79,400.16 701.76,399.87 703.73,399.58 703.73,429.53 701.76,429.53 699.79,429.53 697.81,429.53 695.84,429.54 693.87,429.54 691.89,429.55 689.92,429.55 687.95,429.56 685.97,429.57 684,429.58 682.03,429.59 680.05,429.6 678.08,429.61 676.11,429.62 674.14,429.63 672.16,429.64 670.19,429.66 668.22,429.67 666.24,429.68 664.27,429.7 662.3,429.71 660.32,429.73 658.35,429.74 656.38,429.76 654.4,429.77 652.43,429.79 650.46,429.81 648.49,429.83 646.51,429.86 644.54,429.88 642.57,429.91 640.59,429.95 638.62,429.98 636.65,430.02 634.67,430.06 632.7,430.1 630.73,430.14 628.75,430.18 626.78,430.22 624.81,430.27 622.83,430.31 620.86,430.36 618.89,430.41 616.92,430.45 614.94,430.5 612.97,430.54 611,430.59 609.02,430.64 607.05,430.68 605.08,430.73 603.1,430.78 601.13,430.83 599.16,430.88 597.18,430.94 595.21,430.99 593.24,431.05 591.27,431.1 589.29,431.15 587.32,431.2 585.35,431.25 583.37,431.29 581.4,431.33 579.43,431.36 577.45,431.39 575.48,431.42 573.51,431.45 571.53,431.47 569.56,431.49 567.59,431.52 565.61,431.54 563.64,431.56 561.67,431.58 559.7,431.6 557.72,431.63 555.75,431.65 553.78,431.68 551.8,431.71 549.83,431.74 547.86,431.78 545.88,431.82 543.91,431.86 541.94,431.91 539.96,431.96 537.99,432.03 536.02,432.09 534.05,432.17 532.07,432.25 530.1,432.33 528.13,432.42 526.15,432.51 524.18,432.61 522.21,432.71 520.23,432.81 518.26,432.92 516.29,433.03 514.31,433.14 512.34,433.25 510.37,433.37"/>
<polyline fill="none" stroke="#2525ff" stroke-width="1.7" stroke-linecap="square" stroke-linejoin="round" points="510.37,432.86 512.34,432.75 514.31,432.63 516.29,432.51 518.26,432.39 520.23,432.26 522.21,432.13 524.18,432 526.15,431.86 528.13,431.71 530.1,431.55 532.07,431.37 534.05,431.19 536.02,431.01 537.99,430.83 539.96,430.66 541.94,430.5 543.91,430.37 545.88,430.25 547.86,430.16 549.83,430.07 551.8,429.99 553.78,429.92 555.75,429.84 557.72,429.77 559.7,429.7 561.67,429.62 563.64,429.53 565.61,429.43 567.59,429.32 569.56,429.21 571.53,429.1 573.51,428.98 575.48,428.86 577.45,428.75 579.43,428.63 581.4,428.53 583.37,428.42 585.35,428.32 587.32,428.21 589.29,428.11 591.27,428.01 593.24,427.91 595.21,427.81 597.18,427.71 599.16,427.61 601.13,427.52 603.1,427.42 605.08,427.32 607.05,427.22 609.02,427.12 611,427.02 612.97,426.9 614.94,426.78 616.92,426.67 618.89,426.55 620.86,426.43 622.83,426.31 624.81,426.2 626.78,426.1 628.75,426 630.73,425.91 632.7,425.84 634.67,425.78 636.65,425.73 638.62,425.7 640.59,425.68 642.57,425.66 644.54,425.65 646.51,425.63 648.49,425.62 650.46,425.61 652.43,425.59 654.4,425.58 656.38,425.57 658.35,425.56 660.32,425.55 662.3,425.54 664.27,425.53 666.24,425.52 668.22,425.51 670.19,425.5 672.16,425.49 674.14,425.49 676.11,425.48 678.08,425.47 680.05,425.47 682.03,425.46 684,425.46 685.97,425.45 687.95,425.45 689.92,425.44 691.89,425.44 693.87,425.44 695.84,425.44 697.81,425.43 699.79,425.43 701.76,425.43 703.73,425.43"/>
<rect x="500.7" y="387.2" width="212.7" height="155.4" fill="none" stroke="#000" stroke-width="0.75"/>
<path d="M506.42 542.6v3.3M545.88 542.6v3.3M585.35 542.6v3.3M624.81 542.6v3.3M664.27 542.6v3.3M703.73 542.6v3.3M500.7 535h-3.3M500.7 509.4h-3.3M500.7 483.8h-3.3M500.7 458.2h-3.3M500.7 432.6h-3.3M500.7 407h-3.3" stroke="#000" stroke-width="0.75" fill="none"/>
<text x="607.05" y="381.8" font-size="10.0" text-anchor="middle" textLength="58.52" lengthAdjust="spacingAndGlyphs">T3, tau+20%</text>
<polygon fill="#ccccff" stroke="#b0b0ff" stroke-width="0.6" points="736.27,430.3 738.24,429.57 740.21,428.9 742.19,428.3 744.16,427.8 746.13,427.37 748.11,426.97 750.08,426.61 752.05,426.27 754.03,425.93 756,425.6 757.97,425.28 759.95,424.97 761.92,424.68 763.89,424.38 765.86,424.1 767.84,423.82 769.81,423.55 771.78,423.28 773.76,423.01 775.73,422.75 777.7,422.49 779.68,422.24 781.65,422 783.62,421.76 785.6,421.53 787.57,421.3 789.54,421.08 791.51,420.87 793.49,420.66 795.46,420.46 797.43,420.26 799.41,420.07 801.38,419.88 803.35,419.69 805.33,419.51 807.3,419.32 809.27,419.14 811.25,418.96 813.22,418.78 815.19,418.61 817.17,418.43 819.14,418.26 821.11,418.09 823.08,417.92 825.06,417.76 827.03,417.59 829,417.43 830.98,417.27 832.95,417.11 834.92,416.96 836.9,416.8 838.87,416.65 840.84,416.5 842.82,416.35 844.79,416.2 846.76,416.05 848.73,415.91 850.71,415.76 852.68,415.62 854.65,415.48 856.63,415.33 858.6,415.19 860.57,415.05 862.55,414.92 864.52,414.78 866.49,414.64 868.47,414.51 870.44,414.37 872.41,414.23 874.39,414.1 876.36,413.96 878.33,413.83 880.3,413.69 882.28,413.56 884.25,413.43 886.22,413.3 888.2,413.17 890.17,413.05 892.14,412.93 894.12,412.81 896.09,412.7 898.06,412.59 900.04,412.48 902.01,412.38 903.98,412.27 905.95,412.17 907.93,412.07 909.9,411.97 911.87,411.87 913.85,411.78 915.82,411.68 917.79,411.59 919.77,411.5 921.74,411.42 923.71,411.33 925.69,411.25 927.66,411.17 929.63,411.1 929.63,433.37 927.66,433.37 925.69,433.37 923.71,433.37 921.74,433.37 919.77,433.37 917.79,433.37 915.82,433.37 913.85,433.37 911.87,433.37 909.9,433.37 907.93,433.37 905.95,433.37 903.98,433.37 902.01,433.37 900.04,433.37 898.06,433.37 896.09,433.37 894.12,433.37 892.14,433.37 890.17,433.37 888.2,433.37 886.22,433.37 884.25,433.37 882.28,433.37 880.3,433.37 878.33,433.37 876.36,433.37 874.39,433.37 872.41,433.37 870.44,433.37 868.47,433.37 866.49,433.37 864.52,433.37 862.55,433.37 860.57,433.37 858.6,433.37 856.63,433.37 854.65,433.37 852.68,433.37 850.71,433.37 848.73,433.37 846.76,433.37 844.79,433.37 842.82,433.37 840.84,433.37 838.87,433.37 836.9,433.37 834.92,433.37 832.95,433.37 830.98,433.37 829,433.37 827.03,433.36 825.06,433.36 823.08,433.35 821.11,433.35 819.14,433.34 817.17,433.33 815.19,433.32 813.22,433.31 811.25,433.3 809.27,433.29 807.3,433.28 805.33,433.27 803.35,433.26 801.38,433.24 799.41,433.23 797.43,433.22 795.46,433.21 793.49,433.19 791.51,433.18 789.54,433.17 787.57,433.16 785.6,433.14 783.62,433.13 781.65,433.12 779.68,433.11 777.7,433.1 775.73,433.09 773.76,433.08 771.78,433.07 769.81,433.06 767.84,433.05 765.86,433.03 763.89,433.02 761.92,433.01 759.95,433 757.97,432.99 756,432.98 754.03,432.96 752.05,432.95 750.08,432.94 748.11,432.93 746.13,432.92 744.16,432.91 742.19,432.89 740.21,432.88 738.24,432.87 736.27,432.86"/>
<polyline fill="none" stroke="#2525ff" stroke-width="1.7" stroke-linecap="square" stroke-linejoin="round" points="736.27,432.34 738.24,432.21 740.21,432.09 742.19,431.96 744.16,431.83 746.13,431.71 748.11,431.58 750.08,431.46 752.05,431.34 754.03,431.23 756,431.1 757.97,430.98 759.95,430.86 761.92,430.74 763.89,430.62 765.86,430.5 767.84,430.38 769.81,430.27 771.78,430.16 773.76,430.06 775.73,429.97 777.7,429.88 779.68,429.8 781.65,429.73 783.62,429.66 785.6,429.61 787.57,429.56 789.54,429.51 791.51,429.46 793.49,429.42 795.46,429.37 797.43,429.33 799.41,429.28 801.38,429.22 803.35,429.17 805.33,429.1 807.3,429.03 809.27,428.95 811.25,428.85 813.22,428.74 815.19,428.62 817.17,428.48 819.14,428.34 821.11,428.2 823.08,428.05 825.06,427.91 827.03,427.76 829,427.62 830.98,427.48 832.95,427.35 834.92,427.23 836.9,427.09 838.87,426.96 840.84,426.82 842.82,426.69 844.79,426.55 846.76,426.42 848.73,426.29 850.71,426.17 852.68,426.06 854.65,425.95 856.63,425.85 858.6,425.76 860.57,425.69 862.55,425.62 864.52,425.56 866.49,425.49 868.47,425.43 870.44,425.38 872.41,425.32 874.39,425.27 876.36,425.22 878.33,425.17 880.3,425.13 882.28,425.09 884.25,425.05 886.22,425.01 888.2,424.98 890.17,424.95 892.14,424.93 894.12,424.91 896.09,424.89 898.06,424.86 900.04,424.84 902.01,424.82 903.98,424.81 905.95,424.79 907.93,424.77 909.9,424.75 911.87,424.74 913.85,424.72 915.82,424.71 917.79,424.7 919.77,424.69 921.74,424.68 923.71,424.67 925.69,424.67 927.66,424.67 929.63,424.66"/>
<rect x="726.6" y="387.2" width="212.7" height="155.4" fill="none" stroke="#000" stroke-width="0.75"/>
<path d="M732.32 542.6v3.3M771.78 542.6v3.3M811.25 542.6v3.3M850.71 542.6v3.3M890.17 542.6v3.3M929.63 542.6v3.3M726.6 535h-3.3M726.6 509.4h-3.3M726.6 483.8h-3.3M726.6 458.2h-3.3M726.6 432.6h-3.3M726.6 407h-3.3" stroke="#000" stroke-width="0.75" fill="none"/>
<text x="832.95" y="381.8" font-size="10.0" text-anchor="middle" textLength="58.52" lengthAdjust="spacingAndGlyphs">T4, tau+20%</text>
<polyline fill="none" stroke="#2525ff" stroke-width="1.7" stroke-linecap="square" points="962.17,432.6 1155.53,432.6"/>
<rect x="952.5" y="387.2" width="212.7" height="155.4" fill="none" stroke="#000" stroke-width="0.75"/>
<path d="M958.22 542.6v3.3M997.68 542.6v3.3M1037.15 542.6v3.3M1076.61 542.6v3.3M1116.07 542.6v3.3M1155.53 542.6v3.3M952.5 535h-3.3M952.5 509.4h-3.3M952.5 483.8h-3.3M952.5 458.2h-3.3M952.5 432.6h-3.3M952.5 407h-3.3" stroke="#000" stroke-width="0.75" fill="none"/>
<text x="1058.85" y="381.8" font-size="10.0" text-anchor="middle" textLength="58.52" lengthAdjust="spacingAndGlyphs">T5, tau+20%</text>
<polygon fill="#ccccff" stroke="#b0b0ff" stroke-width="0.6" points="58.57,612.41 60.54,611.59 62.51,610.8 64.49,610.05 66.46,609.34 68.43,608.69 70.41,608.1 72.38,607.57 74.35,607.12 76.33,606.74 78.3,606.4 80.27,606.09 82.25,605.81 84.22,605.55 86.19,605.31 88.16,605.07 90.14,604.83 92.11,604.58 94.08,604.32 96.06,604.07 98.03,603.81 100,603.56 101.98,603.32 103.95,603.07 105.92,602.83 107.9,602.59 109.87,602.36 111.84,602.13 113.81,601.9 115.79,601.67 117.76,601.45 119.73,601.22 121.71,601 123.68,600.79 125.65,600.58 127.63,600.37 129.6,600.17 131.57,599.97 133.55,599.77 135.52,599.58 137.49,599.4 139.47,599.21 141.44,599.03 143.41,598.85 145.38,598.67 147.36,598.5 149.33,598.32 151.3,598.14 153.28,597.96 155.25,597.79 157.22,597.6 159.2,597.42 161.17,597.23 163.14,597.05 165.12,596.86 167.09,596.66 169.06,596.47 171.03,596.28 173.01,596.09 174.98,595.9 176.95,595.72 178.93,595.53 180.9,595.35 182.87,595.17 184.85,594.99 186.82,594.81 188.79,594.65 190.77,594.48 192.74,594.32 194.71,594.17 196.69,594.02 198.66,593.88 200.63,593.75 202.6,593.62 204.58,593.5 206.55,593.38 208.52,593.25 210.5,593.13 212.47,593.01 214.44,592.9 216.42,592.78 218.39,592.67 220.36,592.56 222.34,592.45 224.31,592.34 226.28,592.24 228.25,592.14 230.23,592.04 232.2,591.94 234.17,591.85 236.15,591.76 238.12,591.67 240.09,591.59 242.07,591.51 244.04,591.43 246.01,591.36 247.99,591.29 249.96,591.23 251.93,591.17 251.93,613.69 249.96,613.65 247.99,613.61 246.01,613.57 244.04,613.53 242.07,613.49 240.09,613.45 238.12,613.41 236.15,613.37 234.17,613.33 232.2,613.3 230.23,613.26 228.25,613.22 226.28,613.19 224.31,613.15 222.34,613.12 220.36,613.09 218.39,613.05 216.42,613.02 214.44,612.99 212.47,612.96 210.5,612.93 208.52,612.9 206.55,612.87 204.58,612.84 202.6,612.81 200.63,612.78 198.66,612.75 196.69,612.72 194.71,612.69 192.74,612.66 190.77,612.63 188.79,612.6 186.82,612.57 184.85,612.54 182.87,612.51 180.9,612.49 178.93,612.46 176.95,612.44 174.98,612.41 173.01,612.39 171.03,612.37 169.06,612.35 167.09,612.34 165.12,612.32 163.14,612.31 161.17,612.3 159.2,612.29 157.22,612.29 155.25,612.29 153.28,612.29 151.3,612.31 149.33,612.34 147.36,612.38 145.38,612.43 143.41,612.49 141.44,612.56 139.47,612.64 137.49,612.72 135.52,612.8 133.55,612.89 131.57,612.98 129.6,613.07 127.63,613.15 125.65,613.24 123.68,613.32 121.71,613.4 119.73,613.47 117.76,613.53 115.79,613.6 113.81,613.67 111.84,613.74 109.87,613.8 107.9,613.87 105.92,613.94 103.95,614.01 101.98,614.09 100,614.16 98.03,614.24 96.06,614.32 94.08,614.41 92.11,614.5 90.14,614.62 88.16,614.75 86.19,614.9 84.22,615.05 82.25,615.19 80.27,615.31 78.3,615.41 76.33,615.47 74.35,615.49 72.38,615.49 70.41,615.48 68.43,615.47 66.46,615.45 64.49,615.42 62.51,615.38 60.54,615.31 58.57,615.23"/>
<polyline fill="none" stroke="#2525ff" stroke-width="1.7" stroke-linecap="square" stroke-linejoin="round" points="58.57,612.93 60.54,611.84 62.51,610.87 64.49,610.09 66.46,609.54 68.43,609.08 70.41,608.69 72.38,608.36 74.35,608.11 76.33,607.9 78.3,607.73 80.27,607.58 82.25,607.45 84.22,607.33 86.19,607.21 88.16,607.1 90.14,606.97 92.11,606.84 94.08,606.69 96.06,606.54 98.03,606.38 100,606.21 101.98,606.05 103.95,605.88 105.92,605.71 107.9,605.55 109.87,605.38 111.84,605.21 113.81,605.05 115.79,604.88 117.76,604.71 119.73,604.54 121.71,604.38 123.68,604.21 125.65,604.03 127.63,603.86 129.6,603.69 131.57,603.52 133.55,603.36 135.52,603.2 137.49,603.05 139.47,602.92 141.44,602.8 143.41,602.69 145.38,602.6 147.36,602.5 149.33,602.4 151.3,602.29 153.28,602.16 155.25,602.01 157.22,601.73 159.2,601.47 161.17,601.41 163.14,601.43 165.12,601.46 167.09,601.51 169.06,601.57 171.03,601.63 173.01,601.69 174.98,601.76 176.95,601.82 178.93,601.86 180.9,601.9 182.87,601.92 184.85,601.93 186.82,601.95 188.79,601.96 190.77,601.97 192.74,601.99 194.71,602 196.69,602.01 198.66,602.02 200.63,602.03 202.6,602.04 204.58,602.05 206.55,602.06 208.52,602.07 210.5,602.08 212.47,602.09 214.44,602.1 216.42,602.11 218.39,602.11 220.36,602.12 222.34,602.13 224.31,602.13 226.28,602.14 228.25,602.14 230.23,602.15 232.2,602.15 234.17,602.16 236.15,602.16 238.12,602.16 240.09,602.17 242.07,602.17 244.04,602.17 246.01,602.17 247.99,602.17 249.96,602.17 251.93,602.17"/>
<rect x="48.9" y="568.55" width="212.7" height="155.4" fill="none" stroke="#000" stroke-width="0.75"/>
<path d="M54.62 723.95v3.3M94.08 723.95v3.3M133.55 723.95v3.3M173.01 723.95v3.3M212.47 723.95v3.3M251.93 723.95v3.3M48.9 716.35h-3.3M48.9 690.75h-3.3M48.9 665.15h-3.3M48.9 639.55h-3.3M48.9 613.95h-3.3M48.9 588.35h-3.3" stroke="#000" stroke-width="0.75" fill="none"/>
<text x="155.25" y="563.15" font-size="10.0" text-anchor="middle" textLength="58.52" lengthAdjust="spacingAndGlyphs">T6, tau+20%</text>
<text x="42.4" y="720.75" font-size="10" text-anchor="end">−4</text>
<text x="42.4" y="695.15" font-size="10" text-anchor="end">−3</text>
<text x="42.4" y="669.55" font-size="10" text-anchor="end">−2</text>
<text x="42.4" y="643.95" font-size="10" text-anchor="end">−1</text>
<text x="42.4" y="618.35" font-size="10" text-anchor="end">0</text>
<text x="42.4" y="592.75" font-size="10" text-anchor="end">1</text>
<g transform="translate(22.3 660.95) rotate(-90)"><text x="-0.3" y="0" font-size="9.6" font-style="italic" textLength="6.2" lengthAdjust="spacingAndGlyphs">R</text><text x="6.8" y="1.4" font-size="6.3" font-style="italic">T</text><path d="M11.3 0.8L14.5 -7.1M15.1 -3.9L15.9 -4.3L17.6 -0.1L20.6 -10H29.2" fill="none" stroke="#000" stroke-width="0.8"/><text x="22.1" y="0" font-size="9.6" font-style="italic">T</text></g>
<text x="54.62" y="737.85" font-size="10" text-anchor="middle">0</text>
<text x="94.08" y="737.85" font-size="10" text-anchor="middle">10</text>
<text x="133.55" y="737.85" font-size="10" text-anchor="middle">20</text>
<text x="173.01" y="737.85" font-size="10" text-anchor="middle">30</text>
<text x="212.47" y="737.85" font-size="10" text-anchor="middle">40</text>
<text x="251.93" y="737.85" font-size="10" text-anchor="middle">50</text>
<text x="155.25" y="750.85" font-size="10" text-anchor="middle">T</text>
<polygon fill="#ccccff" stroke="#b0b0ff" stroke-width="0.6" points="284.47,613.95 286.44,613.65 288.41,613.36 290.39,613.06 292.36,612.78 294.33,612.49 296.31,612.21 298.28,611.93 300.25,611.65 302.23,611.38 304.2,611.11 306.17,610.84 308.15,610.58 310.12,610.31 312.09,610.07 314.06,609.84 316.04,609.62 318.01,609.4 319.98,609.18 321.96,608.95 323.93,608.7 325.9,608.43 327.88,608.13 329.85,607.74 331.82,607.21 333.8,606.67 335.77,606.22 337.74,605.98 339.71,605.86 341.69,605.77 343.66,605.7 345.63,605.64 347.61,605.59 349.58,605.54 351.55,605.48 353.53,605.39 355.5,605.27 357.47,605.07 359.45,604.74 361.42,604.34 363.39,603.95 365.37,603.66 367.34,603.43 369.31,603.23 371.28,603.04 373.26,602.86 375.23,602.69 377.2,602.52 379.18,602.35 381.15,602.17 383.12,601.99 385.1,601.81 387.07,601.64 389.04,601.46 391.02,601.29 392.99,601.12 394.96,600.95 396.93,600.78 398.91,600.61 400.88,600.44 402.85,600.27 404.83,600.09 406.8,599.92 408.77,599.73 410.75,599.55 412.72,599.36 414.69,599.17 416.67,598.97 418.64,598.76 420.61,598.53 422.59,598.29 424.56,598.03 426.53,597.75 428.5,597.48 430.48,597.2 432.45,596.92 434.42,596.65 436.4,596.4 438.37,596.16 440.34,595.94 442.32,595.75 444.29,595.6 446.26,595.47 448.24,595.35 450.21,595.24 452.18,595.12 454.15,595.01 456.13,594.9 458.1,594.8 460.07,594.71 462.05,594.62 464.02,594.53 465.99,594.46 467.97,594.4 469.94,594.34 471.91,594.3 473.89,594.26 475.86,594.24 477.83,594.24 477.83,617.28 475.86,617.17 473.89,617.06 471.91,616.96 469.94,616.86 467.97,616.76 465.99,616.67 464.02,616.59 462.05,616.5 460.07,616.43 458.1,616.36 456.13,616.3 454.15,616.24 452.18,616.19 450.21,616.14 448.24,616.09 446.26,616.04 444.29,615.99 442.32,615.94 440.34,615.9 438.37,615.86 436.4,615.82 434.42,615.8 432.45,615.77 430.48,615.75 428.5,615.74 426.53,615.74 424.56,615.74 422.59,615.75 420.61,615.75 418.64,615.76 416.67,615.77 414.69,615.78 412.72,615.79 410.75,615.8 408.77,615.82 406.8,615.83 404.83,615.85 402.85,615.87 400.88,615.89 398.91,615.91 396.93,615.93 394.96,615.95 392.99,615.98 391.02,616 389.04,616.02 387.07,616.05 385.1,616.07 383.12,616.1 381.15,616.13 379.18,616.16 377.2,616.21 375.23,616.26 373.26,616.32 371.28,616.39 369.31,616.46 367.34,616.53 365.37,616.59 363.39,616.65 361.42,616.7 359.45,616.74 357.47,616.76 355.5,616.77 353.53,616.77 351.55,616.77 349.58,616.77 347.61,616.77 345.63,616.77 343.66,616.77 341.69,616.77 339.71,616.77 337.74,616.77 335.77,616.74 333.8,616.66 331.82,616.51 329.85,616.33 327.88,616.13 325.9,615.91 323.93,615.69 321.96,615.48 319.98,615.29 318.01,615.14 316.04,614.97 314.06,614.79 312.09,614.6 310.12,614.43 308.15,614.27 306.17,614.14 304.2,614.03 302.23,613.97 300.25,613.95 298.28,613.96 296.31,614 294.33,614.06 292.36,614.14 290.39,614.24 288.41,614.37 286.44,614.53 284.47,614.72"/>
<polyline fill="none" stroke="#2525ff" stroke-width="1.7" stroke-linecap="square" stroke-linejoin="round" points="284.47,614.46 286.44,613.97 288.41,613.51 290.39,613.12 292.36,612.82 294.33,612.56 296.31,612.34 298.28,612.14 300.25,611.96 302.23,611.79 304.2,611.62 306.17,611.46 308.15,611.28 310.12,611.1 312.09,610.9 314.06,610.69 316.04,610.48 318.01,610.28 319.98,610.07 321.96,609.88 323.93,609.69 325.9,609.52 327.88,609.37 329.85,609.23 331.82,609.11 333.8,608.99 335.77,608.87 337.74,608.77 339.71,608.67 341.69,608.57 343.66,608.47 345.63,608.37 347.61,608.28 349.58,608.19 351.55,608.11 353.53,608.03 355.5,607.95 357.47,607.87 359.45,607.79 361.42,607.71 363.39,607.62 365.37,607.53 367.34,607.42 369.31,607.28 371.28,607.13 373.26,606.99 375.23,606.86 377.2,606.75 379.18,606.68 381.15,606.65 383.12,606.67 385.1,606.71 387.07,606.77 389.04,606.85 391.02,606.95 392.99,607.06 394.96,607.18 396.93,607.31 398.91,607.45 400.88,607.58 402.85,607.71 404.83,607.84 406.8,607.96 408.77,608.06 410.75,608.16 412.72,608.23 414.69,608.28 416.67,608.31 418.64,608.31 420.61,608.28 422.59,608.22 424.56,608.13 426.53,608.04 428.5,607.94 430.48,607.85 432.45,607.78 434.42,607.71 436.4,607.64 438.37,607.57 440.34,607.5 442.32,607.43 444.29,607.36 446.26,607.3 448.24,607.23 450.21,607.16 452.18,607.09 454.15,607.03 456.13,606.96 458.1,606.9 460.07,606.83 462.05,606.77 464.02,606.7 465.99,606.64 467.97,606.58 469.94,606.51 471.91,606.45 473.89,606.39 475.86,606.33 477.83,606.27"/>
<rect x="274.8" y="568.55" width="212.7" height="155.4" fill="none" stroke="#000" stroke-width="0.75"/>
<path d="M280.52 723.95v3.3M319.98 723.95v3.3M359.45 723.95v3.3M398.91 723.95v3.3M438.37 723.95v3.3M477.83 723.95v3.3M274.8 716.35h-3.3M274.8 690.75h-3.3M274.8 665.15h-3.3M274.8 639.55h-3.3M274.8 613.95h-3.3M274.8 588.35h-3.3" stroke="#000" stroke-width="0.75" fill="none"/>
<text x="381.15" y="563.15" font-size="10.0" text-anchor="middle" textLength="58.52" lengthAdjust="spacingAndGlyphs">T7, tau+20%</text>
<text x="280.52" y="737.85" font-size="10" text-anchor="middle">0</text>
<text x="319.98" y="737.85" font-size="10" text-anchor="middle">10</text>
<text x="359.45" y="737.85" font-size="10" text-anchor="middle">20</text>
<text x="398.91" y="737.85" font-size="10" text-anchor="middle">30</text>
<text x="438.37" y="737.85" font-size="10" text-anchor="middle">40</text>
<text x="477.83" y="737.85" font-size="10" text-anchor="middle">50</text>
<text x="381.15" y="750.85" font-size="10" text-anchor="middle">T</text>
<polygon fill="#ccccff" stroke="#b0b0ff" stroke-width="0.6" points="510.37,620.31 512.34,621.1 514.31,621.8 516.29,622.44 518.26,623.03 520.23,623.59 522.21,624.11 524.18,624.61 526.15,625.09 528.13,625.55 530.1,626 532.07,626.43 534.05,626.84 536.02,627.25 537.99,627.64 539.96,628.03 541.94,628.4 543.91,628.77 545.88,629.13 547.86,629.48 549.83,629.83 551.8,630.17 553.78,630.5 555.75,630.83 557.72,631.16 559.7,631.47 561.67,631.79 563.64,632.1 565.61,632.4 567.59,632.71 569.56,633 571.53,633.3 573.51,633.59 575.48,633.88 577.45,634.16 579.43,634.44 581.4,634.72 583.37,634.99 585.35,635.27 587.32,635.54 589.29,635.8 591.27,636.07 593.24,636.33 595.21,636.59 597.18,636.85 599.16,637.11 601.13,637.36 603.1,637.61 605.08,637.86 607.05,638.11 609.02,638.36 611,638.6 612.97,638.84 614.94,639.08 616.92,639.32 618.89,639.56 620.86,639.8 622.83,640.03 624.81,640.27 626.78,640.5 628.75,640.73 630.73,640.96 632.7,641.18 634.67,641.41 636.65,641.63 638.62,641.86 640.59,642.08 642.57,642.3 644.54,642.52 646.51,642.74 648.49,642.96 650.46,643.17 652.43,643.39 654.4,643.6 656.38,643.82 658.35,644.03 660.32,644.24 662.3,644.45 664.27,644.66 666.24,644.87 668.22,645.07 670.19,645.28 672.16,645.49 674.14,645.69 676.11,645.89 678.08,646.1 680.05,646.3 682.03,646.5 684,646.7 685.97,646.9 687.95,647.1 689.92,647.3 691.89,647.49 693.87,647.69 695.84,647.89 697.81,648.08 699.79,648.27 701.76,648.47 703.73,648.66 703.73,667.16 701.76,666.93 699.79,666.69 697.81,666.46 695.84,666.23 693.87,665.99 691.89,665.75 689.92,665.51 687.95,665.26 685.97,665.02 684,664.77 682.03,664.52 680.05,664.27 678.08,664.02 676.11,663.76 674.14,663.51 672.16,663.25 670.19,662.99 668.22,662.72 666.24,662.45 664.27,662.19 662.3,661.92 660.32,661.64 658.35,661.37 656.38,661.09 654.4,660.81 652.43,660.52 650.46,660.24 648.49,659.95 646.51,659.66 644.54,659.36 642.57,659.07 640.59,658.77 638.62,658.47 636.65,658.16 634.67,657.85 632.7,657.54 630.73,657.22 628.75,656.9 626.78,656.58 624.81,656.26 622.83,655.93 620.86,655.6 618.89,655.26 616.92,654.92 614.94,654.58 612.97,654.23 611,653.88 609.02,653.52 607.05,653.16 605.08,652.8 603.1,652.43 601.13,652.05 599.16,651.67 597.18,651.29 595.21,650.9 593.24,650.51 591.27,650.11 589.29,649.7 587.32,649.29 585.35,648.88 583.37,648.45 581.4,648.03 579.43,647.59 577.45,647.15 575.48,646.7 573.51,646.24 571.53,645.78 569.56,645.3 567.59,644.82 565.61,644.33 563.64,643.83 561.67,643.33 559.7,642.81 557.72,642.28 555.75,641.74 553.78,641.19 551.8,640.63 549.83,640.05 547.86,639.46 545.88,638.86 543.91,638.24 541.94,637.6 539.96,636.95 537.99,636.28 536.02,635.59 534.05,634.87 532.07,634.13 530.1,633.37 528.13,632.58 526.15,631.75 524.18,630.89 522.21,629.99 520.23,629.05 518.26,628.05 516.29,627 514.31,625.88 512.34,624.68 510.37,623.41"/>
<polyline fill="none" stroke="#2525ff" stroke-width="1.7" stroke-linecap="square" stroke-linejoin="round" points="510.37,622.26 512.34,623.71 514.31,624.93 516.29,626 518.26,626.96 520.23,627.85 522.21,628.68 524.18,629.45 526.15,630.19 528.13,630.89 530.1,631.57 532.07,632.21 534.05,632.83 536.02,633.44 537.99,634.02 539.96,634.59 541.94,635.14 543.91,635.68 545.88,636.2 547.86,636.71 549.83,637.21 551.8,637.7 553.78,638.18 555.75,638.66 557.72,639.12 559.7,639.58 561.67,640.02 563.64,640.47 565.61,640.9 567.59,641.33 569.56,641.75 571.53,642.16 573.51,642.57 575.48,642.98 577.45,643.38 579.43,643.77 581.4,644.16 583.37,644.55 585.35,644.93 587.32,645.31 589.29,645.68 591.27,646.05 593.24,646.42 595.21,646.78 597.18,647.14 599.16,647.49 601.13,647.84 603.1,648.19 605.08,648.54 607.05,648.88 609.02,649.22 611,649.56 612.97,649.89 614.94,650.23 616.92,650.56 618.89,650.88 620.86,651.21 622.83,651.53 624.81,651.85 626.78,652.17 628.75,652.48 630.73,652.79 632.7,653.11 634.67,653.41 636.65,653.72 638.62,654.03 640.59,654.33 642.57,654.63 644.54,654.93 646.51,655.23 648.49,655.53 650.46,655.82 652.43,656.11 654.4,656.4 656.38,656.69 658.35,656.98 660.32,657.27 662.3,657.55 664.27,657.84 666.24,658.12 668.22,658.4 670.19,658.68 672.16,658.96 674.14,659.23 676.11,659.51 678.08,659.78 680.05,660.05 682.03,660.32 684,660.59 685.97,660.86 687.95,661.13 689.92,661.4 691.89,661.66 693.87,661.93 695.84,662.19 697.81,662.45 699.79,662.71 701.76,662.97 703.73,663.23"/>
<rect x="500.7" y="568.55" width="212.7" height="155.4" fill="none" stroke="#000" stroke-width="0.75"/>
<path d="M506.42 723.95v3.3M545.88 723.95v3.3M585.35 723.95v3.3M624.81 723.95v3.3M664.27 723.95v3.3M703.73 723.95v3.3M500.7 716.35h-3.3M500.7 690.75h-3.3M500.7 665.15h-3.3M500.7 639.55h-3.3M500.7 613.95h-3.3M500.7 588.35h-3.3" stroke="#000" stroke-width="0.75" fill="none"/>
<text x="607.05" y="563.15" font-size="10.0" text-anchor="middle" textLength="58.52" lengthAdjust="spacingAndGlyphs">T8, tau+20%</text>
<text x="506.42" y="737.85" font-size="10" text-anchor="middle">0</text>
<text x="545.88" y="737.85" font-size="10" text-anchor="middle">10</text>
<text x="585.35" y="737.85" font-size="10" text-anchor="middle">20</text>
<text x="624.81" y="737.85" font-size="10" text-anchor="middle">30</text>
<text x="664.27" y="737.85" font-size="10" text-anchor="middle">40</text>
<text x="703.73" y="737.85" font-size="10" text-anchor="middle">50</text>
<text x="607.05" y="750.85" font-size="10" text-anchor="middle">T</text>
<polygon fill="#ccccff" stroke="#b0b0ff" stroke-width="0.6" points="736.27,623.17 738.24,623.67 740.21,624.23 742.19,624.79 744.16,625.34 746.13,625.88 748.11,626.4 750.08,626.91 752.05,627.4 754.03,627.87 756,628.34 757.97,628.78 759.95,629.22 761.92,629.64 763.89,630.05 765.86,630.46 767.84,630.85 769.81,631.23 771.78,631.61 773.76,631.97 775.73,632.33 777.7,632.68 779.68,633.03 781.65,633.36 783.62,633.7 785.6,634.02 787.57,634.34 789.54,634.65 791.51,634.96 793.49,635.27 795.46,635.56 797.43,635.86 799.41,636.15 801.38,636.43 803.35,636.71 805.33,636.99 807.3,637.26 809.27,637.53 811.25,637.79 813.22,638.06 815.19,638.31 817.17,638.57 819.14,638.82 821.11,639.07 823.08,639.31 825.06,639.55 827.03,639.79 829,640.03 830.98,640.26 832.95,640.49 834.92,640.72 836.9,640.95 838.87,641.17 840.84,641.39 842.82,641.61 844.79,641.82 846.76,642.04 848.73,642.25 850.71,642.46 852.68,642.66 854.65,642.87 856.63,643.07 858.6,643.27 860.57,643.47 862.55,643.67 864.52,643.86 866.49,644.05 868.47,644.24 870.44,644.43 872.41,644.62 874.39,644.81 876.36,644.99 878.33,645.17 880.3,645.36 882.28,645.54 884.25,645.71 886.22,645.89 888.2,646.06 890.17,646.24 892.14,646.41 894.12,646.58 896.09,646.75 898.06,646.92 900.04,647.08 902.01,647.25 903.98,647.41 905.95,647.58 907.93,647.74 909.9,647.9 911.87,648.06 913.85,648.21 915.82,648.37 917.79,648.52 919.77,648.68 921.74,648.83 923.71,648.98 925.69,649.13 927.66,649.28 929.63,649.43 929.63,675.25 927.66,674.97 925.69,674.69 923.71,674.4 921.74,674.12 919.77,673.83 917.79,673.54 915.82,673.25 913.85,672.96 911.87,672.66 909.9,672.37 907.93,672.07 905.95,671.77 903.98,671.46 902.01,671.16 900.04,670.85 898.06,670.54 896.09,670.23 894.12,669.92 892.14,669.6 890.17,669.28 888.2,668.96 886.22,668.64 884.25,668.31 882.28,667.98 880.3,667.65 878.33,667.32 876.36,666.98 874.39,666.64 872.41,666.3 870.44,665.96 868.47,665.61 866.49,665.26 864.52,664.91 862.55,664.55 860.57,664.19 858.6,663.83 856.63,663.46 854.65,663.09 852.68,662.72 850.71,662.34 848.73,661.96 846.76,661.58 844.79,661.19 842.82,660.8 840.84,660.41 838.87,660.01 836.9,659.6 834.92,659.2 832.95,658.78 830.98,658.37 829,657.94 827.03,657.52 825.06,657.09 823.08,656.65 821.11,656.21 819.14,655.76 817.17,655.3 815.19,654.85 813.22,654.38 811.25,653.91 809.27,653.43 807.3,652.94 805.33,652.45 803.35,651.95 801.38,651.44 799.41,650.93 797.43,650.41 795.46,649.87 793.49,649.33 791.51,648.78 789.54,648.22 787.57,647.65 785.6,647.07 783.62,646.47 781.65,645.86 779.68,645.25 777.7,644.61 775.73,643.96 773.76,643.3 771.78,642.62 769.81,641.92 767.84,641.2 765.86,640.46 763.89,639.7 761.92,638.92 759.95,638.1 757.97,637.26 756,636.38 754.03,635.47 752.05,634.51 750.08,633.5 748.11,632.44 746.13,631.31 744.16,630.1 742.19,628.79 740.21,627.35 738.24,625.74 736.27,623.86"/>
<polyline fill="none" stroke="#2525ff" stroke-width="1.7" stroke-linecap="square" stroke-linejoin="round" points="736.27,623.46 738.24,624.62 740.21,625.7 742.19,626.71 744.16,627.66 746.13,628.55 748.11,629.4 750.08,630.22 752.05,631 754.03,631.75 756,632.48 757.97,633.18 759.95,633.86 761.92,634.53 763.89,635.17 765.86,635.8 767.84,636.41 769.81,637.01 771.78,637.6 773.76,638.18 775.73,638.74 777.7,639.29 779.68,639.84 781.65,640.37 783.62,640.9 785.6,641.41 787.57,641.92 789.54,642.42 791.51,642.91 793.49,643.4 795.46,643.88 797.43,644.35 799.41,644.82 801.38,645.28 803.35,645.73 805.33,646.18 807.3,646.63 809.27,647.07 811.25,647.5 813.22,647.93 815.19,648.35 817.17,648.77 819.14,649.19 821.11,649.6 823.08,650.01 825.06,650.41 827.03,650.81 829,651.21 830.98,651.6 832.95,651.99 834.92,652.38 836.9,652.76 838.87,653.14 840.84,653.52 842.82,653.89 844.79,654.26 846.76,654.63 848.73,654.99 850.71,655.35 852.68,655.71 854.65,656.07 856.63,656.42 858.6,656.77 860.57,657.12 862.55,657.47 864.52,657.81 866.49,658.16 868.47,658.5 870.44,658.83 872.41,659.17 874.39,659.5 876.36,659.83 878.33,660.16 880.3,660.49 882.28,660.81 884.25,661.14 886.22,661.46 888.2,661.78 890.17,662.09 892.14,662.41 894.12,662.72 896.09,663.04 898.06,663.35 900.04,663.65 902.01,663.96 903.98,664.27 905.95,664.57 907.93,664.87 909.9,665.17 911.87,665.47 913.85,665.77 915.82,666.07 917.79,666.36 919.77,666.66 921.74,666.95 923.71,667.24 925.69,667.53 927.66,667.82 929.63,668.1"/>
<rect x="726.6" y="568.55" width="212.7" height="155.4" fill="none" stroke="#000" stroke-width="0.75"/>
<path d="M732.32 723.95v3.3M771.78 723.95v3.3M811.25 723.95v3.3M850.71 723.95v3.3M890.17 723.95v3.3M929.63 723.95v3.3M726.6 716.35h-3.3M726.6 690.75h-3.3M726.6 665.15h-3.3M726.6 639.55h-3.3M726.6 613.95h-3.3M726.6 588.35h-3.3" stroke="#000" stroke-width="0.75" fill="none"/>
<text x="832.95" y="563.15" font-size="10.0" text-anchor="middle" textLength="58.52" lengthAdjust="spacingAndGlyphs">T9, tau+20%</text>
<text x="732.32" y="737.85" font-size="10" text-anchor="middle">0</text>
<text x="771.78" y="737.85" font-size="10" text-anchor="middle">10</text>
<text x="811.25" y="737.85" font-size="10" text-anchor="middle">20</text>
<text x="850.71" y="737.85" font-size="10" text-anchor="middle">30</text>
<text x="890.17" y="737.85" font-size="10" text-anchor="middle">40</text>
<text x="929.63" y="737.85" font-size="10" text-anchor="middle">50</text>
<text x="832.95" y="750.85" font-size="10" text-anchor="middle">T</text>
<polygon fill="#ccccff" stroke="#b0b0ff" stroke-width="0.6" points="962.17,626.75 964.14,628.26 966.11,629.71 968.09,631.09 970.06,632.38 972.03,633.6 974.01,634.75 975.98,635.86 977.95,636.92 979.93,637.96 981.9,638.98 983.87,639.97 985.85,640.92 987.82,641.83 989.79,642.71 991.76,643.54 993.74,644.34 995.71,645.12 997.68,645.89 999.66,646.68 1001.63,647.48 1003.6,648.28 1005.58,649.05 1007.55,649.77 1009.52,650.43 1011.5,651.03 1013.47,651.6 1015.44,652.16 1017.41,652.74 1019.39,653.37 1021.36,654.03 1023.33,654.7 1025.31,655.35 1027.28,655.93 1029.25,656.47 1031.23,656.97 1033.2,657.45 1035.17,657.89 1037.15,658.32 1039.12,658.72 1041.09,659.1 1043.07,659.46 1045.04,659.82 1047.01,660.17 1048.98,660.5 1050.96,660.82 1052.93,661.13 1054.9,661.46 1056.88,661.81 1058.85,662.21 1060.82,662.64 1062.8,663.12 1064.77,663.63 1066.74,664.17 1068.72,664.74 1070.69,665.33 1072.66,665.94 1074.63,666.56 1076.61,667.2 1078.58,667.84 1080.55,668.51 1082.53,669.22 1084.5,669.95 1086.47,670.71 1088.45,671.48 1090.42,672.26 1092.39,673.04 1094.37,673.81 1096.34,674.58 1098.31,675.34 1100.29,676.16 1102.26,676.98 1104.23,677.74 1106.2,678.36 1108.18,678.84 1110.15,679.27 1112.12,679.67 1114.1,680.03 1116.07,680.36 1118.04,680.68 1120.02,680.98 1121.99,681.27 1123.96,681.56 1125.94,681.85 1127.91,682.14 1129.88,682.43 1131.85,682.72 1133.83,682.99 1135.8,683.27 1137.77,683.54 1139.75,683.8 1141.72,684.05 1143.69,684.3 1145.67,684.54 1147.64,684.78 1149.61,685 1151.59,685.22 1153.56,685.43 1155.53,685.63 1155.53,715.87 1153.56,715.41 1151.59,714.94 1149.61,714.47 1147.64,714 1145.67,713.52 1143.69,713.04 1141.72,712.56 1139.75,712.07 1137.77,711.58 1135.8,711.09 1133.83,710.59 1131.85,710.09 1129.88,709.59 1127.91,709.08 1125.94,708.57 1123.96,708.05 1121.99,707.53 1120.02,707.01 1118.04,706.48 1116.07,705.95 1114.1,705.42 1112.12,704.87 1110.15,704.33 1108.18,703.78 1106.2,703.23 1104.23,702.67 1102.26,702.11 1100.29,701.54 1098.31,700.97 1096.34,700.39 1094.37,699.81 1092.39,699.22 1090.42,698.62 1088.45,698.03 1086.47,697.42 1084.5,696.81 1082.53,696.2 1080.55,695.57 1078.58,694.95 1076.61,694.31 1074.63,693.67 1072.66,693.03 1070.69,692.37 1068.72,691.71 1066.74,691.04 1064.77,690.37 1062.8,689.69 1060.82,689 1058.85,688.3 1056.88,687.59 1054.9,686.88 1052.93,686.16 1050.96,685.43 1048.98,684.69 1047.01,683.94 1045.04,683.18 1043.07,682.41 1041.09,681.63 1039.12,680.84 1037.15,680.04 1035.17,679.23 1033.2,678.41 1031.23,677.58 1029.25,676.73 1027.28,675.87 1025.31,674.99 1023.33,674.11 1021.36,673.2 1019.39,672.28 1017.41,671.35 1015.44,670.4 1013.47,669.43 1011.5,668.44 1009.52,667.44 1007.55,666.41 1005.58,665.36 1003.6,664.29 1001.63,663.2 999.66,662.08 997.68,660.93 995.71,659.75 993.74,658.54 991.76,657.3 989.79,656.03 987.82,654.71 985.85,653.35 983.87,651.95 981.9,650.49 979.93,648.98 977.95,647.4 975.98,645.75 974.01,644.03 972.03,642.21 970.06,640.28 968.09,638.22 966.11,636 964.14,633.59 962.17,630.95"/>
<polyline fill="none" stroke="#2525ff" stroke-width="1.7" stroke-linecap="square" stroke-linejoin="round" points="962.17,630.46 964.14,632.87 966.11,635.06 968.09,637.09 970.06,638.97 972.03,640.73 974.01,642.4 975.98,643.97 977.95,645.48 979.93,646.92 981.9,648.3 983.87,649.63 985.85,650.92 987.82,652.16 989.79,653.36 991.76,654.52 993.74,655.65 995.71,656.76 997.68,657.83 999.66,658.88 1001.63,659.9 1003.6,660.89 1005.58,661.87 1007.55,662.82 1009.52,663.76 1011.5,664.67 1013.47,665.57 1015.44,666.45 1017.41,667.32 1019.39,668.17 1021.36,669 1023.33,669.82 1025.31,670.63 1027.28,671.42 1029.25,672.2 1031.23,672.97 1033.2,673.73 1035.17,674.47 1037.15,675.21 1039.12,675.94 1041.09,676.65 1043.07,677.36 1045.04,678.05 1047.01,678.74 1048.98,679.42 1050.96,680.09 1052.93,680.75 1054.9,681.4 1056.88,682.05 1058.85,682.68 1060.82,683.31 1062.8,683.94 1064.77,684.55 1066.74,685.16 1068.72,685.77 1070.69,686.36 1072.66,686.95 1074.63,687.53 1076.61,688.11 1078.58,688.68 1080.55,689.25 1082.53,689.81 1084.5,690.37 1086.47,690.91 1088.45,691.46 1090.42,692 1092.39,692.53 1094.37,693.06 1096.34,693.59 1098.31,694.11 1100.29,694.62 1102.26,695.13 1104.23,695.64 1106.2,696.14 1108.18,696.64 1110.15,697.13 1112.12,697.62 1114.1,698.1 1116.07,698.58 1118.04,699.06 1120.02,699.53 1121.99,700 1123.96,700.47 1125.94,700.93 1127.91,701.39 1129.88,701.84 1131.85,702.3 1133.83,702.74 1135.8,703.19 1137.77,703.63 1139.75,704.07 1141.72,704.5 1143.69,704.94 1145.67,705.36 1147.64,705.79 1149.61,706.21 1151.59,706.63 1153.56,707.05 1155.53,707.46"/>
<rect x="952.5" y="568.55" width="212.7" height="155.4" fill="none" stroke="#000" stroke-width="0.75"/>
<path d="M958.22 723.95v3.3M997.68 723.95v3.3M1037.15 723.95v3.3M1076.61 723.95v3.3M1116.07 723.95v3.3M1155.53 723.95v3.3M952.5 716.35h-3.3M952.5 690.75h-3.3M952.5 665.15h-3.3M952.5 639.55h-3.3M952.5 613.95h-3.3M952.5 588.35h-3.3" stroke="#000" stroke-width="0.75" fill="none"/>
<text x="1058.85" y="563.15" font-size="10.0" text-anchor="middle" textLength="64.2" lengthAdjust="spacingAndGlyphs">T10, tau+20%</text>
<text x="958.22" y="737.85" font-size="10" text-anchor="middle">0</text>
<text x="997.68" y="737.85" font-size="10" text-anchor="middle">10</text>
<text x="1037.15" y="737.85" font-size="10" text-anchor="middle">20</text>
<text x="1076.61" y="737.85" font-size="10" text-anchor="middle">30</text>
<text x="1116.07" y="737.85" font-size="10" text-anchor="middle">40</text>
<text x="1155.53" y="737.85" font-size="10" text-anchor="middle">50</text>
<text x="1058.85" y="750.85" font-size="10" text-anchor="middle">T</text>
</svg></body></html>
